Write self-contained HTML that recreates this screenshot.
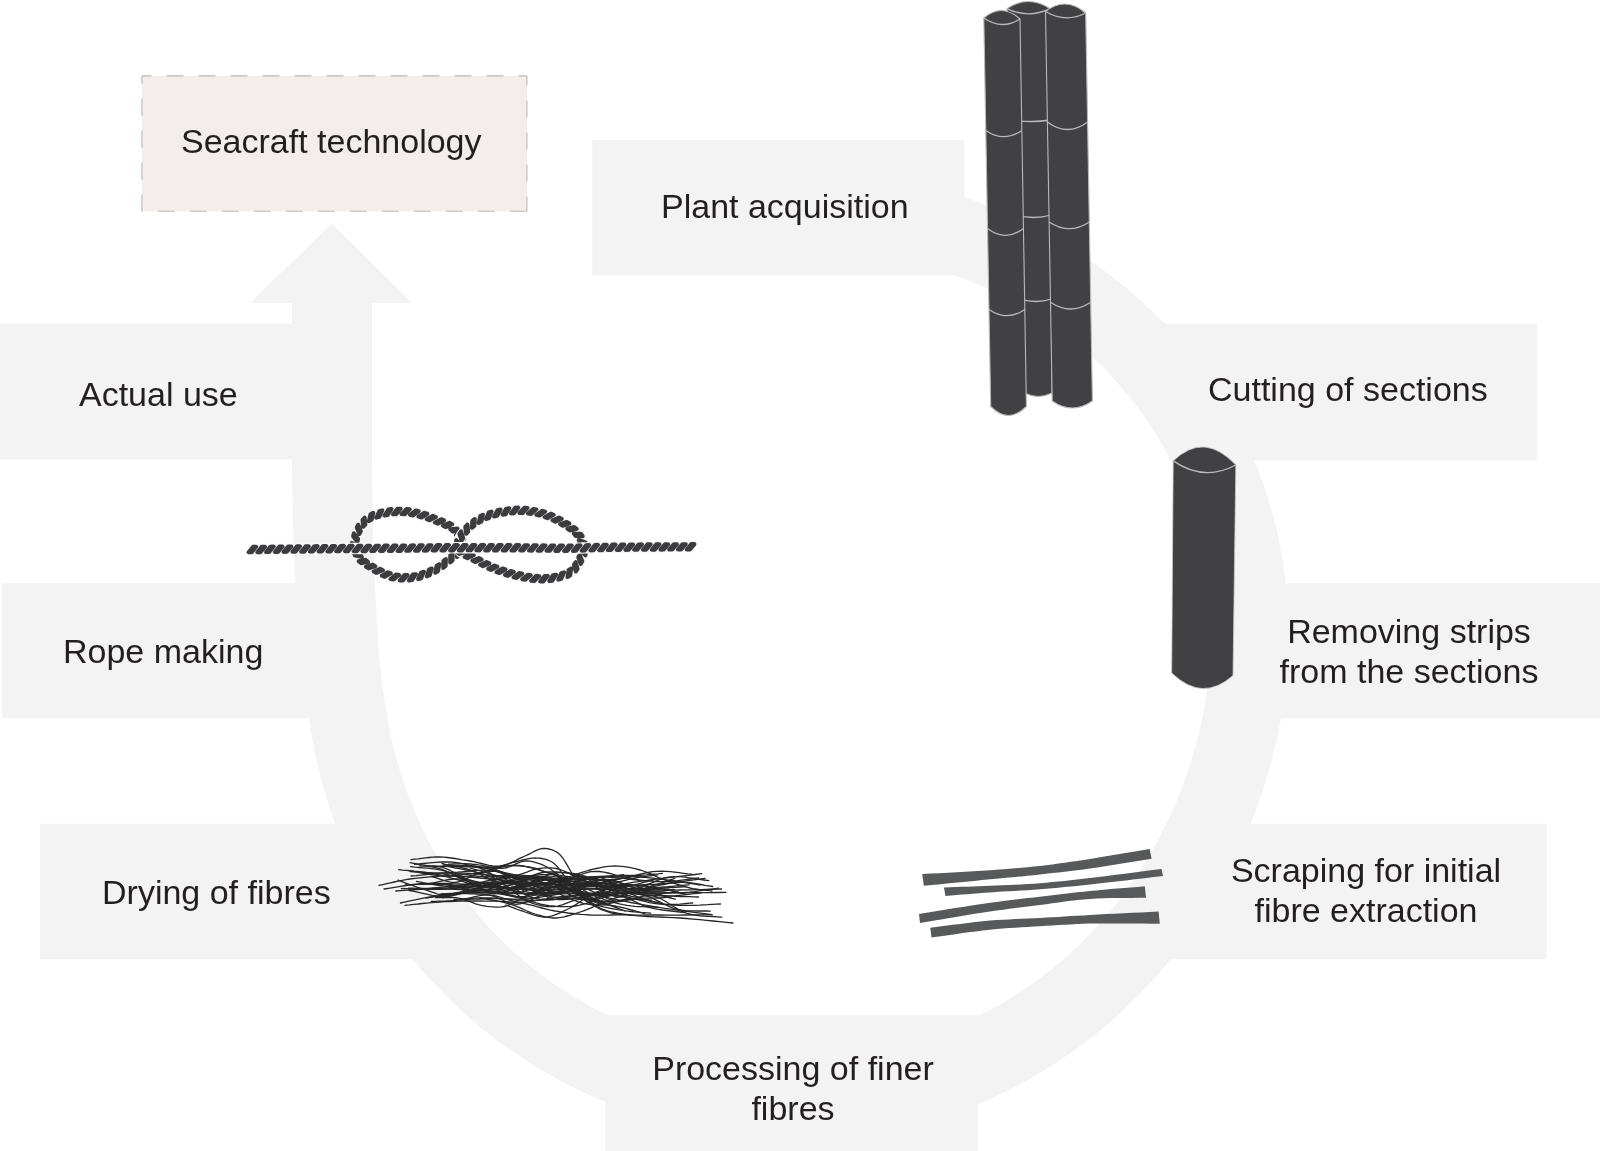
<!DOCTYPE html>
<html><head><meta charset="utf-8"><style>
html,body{margin:0;padding:0;background:#fff;width:1600px;height:1151px;overflow:hidden;position:relative}
.t{position:absolute;will-change:transform;font-family:"Liberation Sans",sans-serif;font-size:34px;line-height:34px;color:#231f20;white-space:nowrap}
.c{width:600px;text-align:center}
</style></head><body>
<svg width="1600" height="1151" viewBox="0 0 1600 1151" style="position:absolute;left:0;top:0"><path d="M879.3,174.1 L884.6,175.1 L890.0,176.2 L895.3,177.4 L900.7,178.5 L906.0,179.8 L911.3,181.1 L916.6,182.4 L921.9,183.8 L927.2,185.2 L932.5,186.7 L937.7,188.3 L943.0,189.8 L948.2,191.5 L953.4,193.2 L958.6,194.9 L963.8,196.7 L968.9,198.6 L974.1,200.5 L979.2,202.4 L984.3,204.4 L989.4,206.5 L994.5,208.6 L999.5,210.7 L1004.6,212.9 L1009.6,215.2 L1014.6,217.5 L1019.6,219.8 L1024.5,222.2 L1029.4,224.7 L1034.3,227.2 L1039.2,229.8 L1044.1,232.4 L1048.9,235.0 L1053.7,237.8 L1058.5,240.5 L1063.3,243.3 L1068.0,246.2 L1072.7,249.1 L1077.3,252.1 L1082.0,255.2 L1086.6,258.2 L1091.2,261.4 L1095.7,264.6 L1100.2,267.8 L1104.7,271.1 L1109.2,274.4 L1113.6,277.8 L1117.9,281.3 L1122.3,284.8 L1126.6,288.3 L1130.8,291.9 L1135.0,295.6 L1139.2,299.3 L1143.3,303.0 L1147.4,306.8 L1151.5,310.7 L1155.5,314.6 L1159.5,318.5 L1163.4,322.5 L1167.2,326.6 L1171.1,330.7 L1174.8,334.8 L1178.6,339.0 L1182.2,343.3 L1185.8,347.6 L1189.4,351.9 L1192.9,356.3 L1196.4,360.7 L1199.8,365.2 L1203.1,369.7 L1206.4,374.3 L1209.7,378.9 L1212.9,383.5 L1216.0,388.2 L1219.0,392.9 L1222.1,397.7 L1225.0,402.5 L1227.9,407.4 L1230.7,412.3 L1233.5,417.2 L1236.1,422.1 L1238.8,427.1 L1241.3,432.2 L1243.8,437.2 L1246.3,442.3 L1248.7,447.4 L1251.0,452.6 L1253.2,457.8 L1255.4,463.0 L1257.5,468.2 L1259.5,473.5 L1261.5,478.8 L1263.4,484.1 L1265.2,489.5 L1267.0,494.8 L1268.7,500.2 L1270.3,505.6 L1271.8,511.1 L1273.3,516.5 L1274.7,522.0 L1276.1,527.5 L1277.3,533.0 L1278.5,538.5 L1279.7,544.0 L1280.7,549.6 L1281.7,555.1 L1282.7,560.7 L1283.5,566.3 L1284.3,571.9 L1285.0,577.4 L1285.7,583.0 L1286.2,588.7 L1286.8,594.3 L1287.2,599.9 L1287.6,605.5 L1287.9,611.1 L1288.1,616.8 L1288.3,622.4 L1288.4,628.0 L1288.4,633.6 L1288.4,639.2 L1288.3,644.9 L1288.1,650.5 L1287.9,656.1 L1287.6,661.7 L1287.2,667.3 L1286.8,672.9 L1286.3,678.5 L1285.8,684.1 L1285.2,689.6 L1284.5,695.2 L1283.7,700.8 L1282.9,706.3 L1282.1,711.8 L1281.1,717.3 L1280.2,722.9 L1279.1,728.3 L1278.0,733.8 L1276.8,739.3 L1275.6,744.7 L1274.3,750.2 L1273.0,755.6 L1271.6,761.0 L1270.1,766.4 L1268.6,771.7 L1267.0,777.1 L1265.4,782.4 L1263.7,787.7 L1262.0,793.0 L1260.2,798.3 L1258.4,803.6 L1256.5,808.8 L1254.5,814.0 L1252.5,819.2 L1250.4,824.3 L1248.3,829.5 L1246.1,834.6 L1243.9,839.7 L1241.6,844.8 L1239.3,849.8 L1236.9,854.8 L1234.5,859.8 L1232.0,864.8 L1229.5,869.7 L1226.9,874.6 L1224.2,879.5 L1221.6,884.4 L1218.8,889.2 L1216.0,894.0 L1213.2,898.8 L1210.3,903.5 L1207.4,908.3 L1204.4,912.9 L1201.4,917.6 L1198.3,922.2 L1195.1,926.8 L1192.0,931.3 L1188.7,935.9 L1185.5,940.3 L1182.1,944.8 L1178.8,949.2 L1175.4,953.6 L1171.9,957.9 L1168.4,962.2 L1164.8,966.5 L1161.2,970.7 L1157.6,974.9 L1153.9,979.1 L1150.1,983.2 L1146.4,987.2 L1142.5,991.3 L1138.7,995.3 L1134.7,999.2 L1130.8,1003.1 L1126.8,1007.0 L1122.7,1010.8 L1118.6,1014.6 L1114.5,1018.3 L1110.3,1022.0 L1106.1,1025.6 L1101.8,1029.2 L1097.5,1032.7 L1093.2,1036.2 L1088.8,1039.7 L1084.4,1043.0 L1079.9,1046.4 L1075.4,1049.7 L1070.9,1052.9 L1066.3,1056.1 L1061.7,1059.2 L1057.1,1062.3 L1052.4,1065.3 L1047.7,1068.3 L1042.9,1071.2 L1038.1,1074.1 L1033.3,1076.9 L1028.4,1079.7 L1023.5,1082.3 L1018.6,1085.0 L1013.7,1087.6 L1008.7,1090.1 L1003.7,1092.5 L998.6,1095.0 L993.5,1097.3 L988.4,1099.6 L983.3,1101.8 L978.2,1104.0 L973.0,1106.1 L967.8,1108.1 L962.6,1110.1 L957.3,1112.0 L952.0,1113.9 L946.7,1115.7 L941.4,1117.4 L936.1,1119.1 L930.7,1120.7 L925.4,1122.2 L920.0,1123.7 L914.6,1125.1 L909.1,1126.4 L903.7,1127.7 L898.2,1128.9 L892.8,1130.1 L887.3,1131.2 L881.8,1132.2 L876.3,1133.2 L870.7,1134.1 L865.2,1134.9 L859.7,1135.7 L854.1,1136.4 L848.6,1137.0 L843.0,1137.6 L837.4,1138.1 L831.9,1138.6 L826.3,1138.9 L820.7,1139.3 L815.1,1139.5 L809.5,1139.7 L803.9,1139.8 L798.4,1139.9 L792.8,1139.9 L787.2,1139.8 L781.6,1139.7 L776.0,1139.5 L770.4,1139.2 L764.8,1138.9 L759.3,1138.5 L753.7,1138.1 L748.1,1137.5 L742.6,1137.0 L737.0,1136.3 L731.5,1135.6 L725.9,1134.9 L720.4,1134.0 L714.9,1133.2 L709.4,1132.2 L703.9,1131.2 L698.4,1130.1 L693.0,1129.0 L687.5,1127.8 L682.1,1126.5 L676.6,1125.2 L671.2,1123.9 L665.8,1122.4 L660.4,1120.9 L655.1,1119.4 L649.7,1117.8 L644.4,1116.1 L639.1,1114.4 L633.8,1112.6 L628.5,1110.7 L623.3,1108.8 L618.0,1106.9 L612.8,1104.8 L607.7,1102.8 L602.5,1100.6 L597.4,1098.4 L592.2,1096.2 L587.2,1093.9 L582.1,1091.5 L577.1,1089.1 L572.1,1086.6 L567.1,1084.1 L562.1,1081.5 L557.2,1078.8 L552.3,1076.1 L547.5,1073.4 L542.6,1070.6 L537.8,1067.7 L533.1,1064.8 L528.3,1061.8 L523.6,1058.8 L519.0,1055.7 L514.3,1052.6 L509.7,1049.4 L505.2,1046.2 L500.7,1042.9 L496.2,1039.5 L491.7,1036.2 L487.3,1032.7 L482.9,1029.2 L478.6,1025.7 L474.3,1022.1 L470.1,1018.5 L465.9,1014.8 L461.7,1011.0 L457.6,1007.2 L453.5,1003.4 L449.5,999.5 L445.5,995.6 L441.6,991.6 L437.7,987.6 L433.8,983.5 L430.1,979.4 L426.3,975.3 L422.6,971.1 L419.0,966.9 L415.4,962.6 L411.8,958.2 L408.3,953.9 L404.9,949.5 L401.5,945.0 L398.1,940.5 L394.8,936.0 L391.6,931.5 L388.4,926.9 L385.3,922.2 L382.2,917.5 L379.2,912.8 L376.2,908.1 L373.3,903.3 L370.5,898.5 L367.7,893.6 L365.0,888.8 L362.3,883.9 L359.7,878.9 L357.1,873.9 L354.6,868.9 L352.2,863.9 L349.8,858.9 L347.5,853.8 L345.2,848.7 L343.0,843.5 L340.9,838.4 L338.8,833.2 L336.8,828.0 L334.8,822.8 L332.9,817.5 L331.1,812.2 L329.3,806.9 L327.6,801.6 L326.0,796.3 L324.4,790.9 L322.8,785.6 L321.4,780.2 L320.0,774.8 L318.6,769.4 L317.3,764.0 L316.4,760.0 L315.9,757.7 L315.5,755.4 L315.0,753.1 L314.5,750.8 L314.0,748.5 L313.6,746.2 L313.2,743.9 L312.7,741.6 L312.3,739.3 L311.9,737.0 L311.5,734.7 L311.1,732.4 L310.7,730.1 L310.3,727.8 L310.0,725.6 L309.6,723.3 L309.2,721.0 L308.9,718.7 L308.5,716.4 L308.2,714.1 L307.9,711.8 L307.5,709.5 L307.2,707.2 L306.9,704.9 L306.6,702.6 L306.3,700.3 L306.0,698.0 L305.7,695.7 L305.4,693.4 L305.1,691.1 L304.9,688.8 L304.6,686.5 L304.3,684.2 L304.0,681.9 L303.7,679.6 L303.5,677.3 L303.2,675.0 L302.9,672.7 L302.6,670.4 L302.4,668.1 L302.1,665.8 L301.8,663.5 L301.5,661.3 L301.3,659.0 L301.0,656.7 L300.7,654.4 L300.5,652.1 L300.2,649.8 L300.0,647.5 L299.8,645.2 L299.5,642.9 L299.3,640.6 L299.2,638.3 L299.0,636.0 L298.8,633.7 L298.6,631.4 L298.4,629.1 L298.3,626.8 L298.1,624.5 L297.9,622.2 L297.8,619.9 L297.6,617.6 L297.4,615.3 L297.3,613.0 L297.1,610.7 L297.0,608.4 L296.8,606.1 L296.7,603.8 L296.5,601.5 L296.4,599.2 L296.2,596.9 L296.1,594.7 L295.9,592.4 L295.8,590.1 L295.7,587.8 L295.5,585.5 L295.4,583.2 L295.3,580.9 L295.2,578.6 L295.0,576.3 L294.9,574.0 L294.8,571.7 L294.7,569.4 L294.6,567.1 L294.5,564.8 L294.4,562.5 L294.3,560.2 L294.2,557.9 L294.1,555.6 L294.0,553.3 L293.9,551.0 L293.8,548.7 L293.7,546.4 L293.6,544.1 L293.5,541.8 L293.4,539.5 L293.3,537.2 L293.3,534.9 L293.2,532.6 L293.1,530.4 L293.0,528.1 L293.0,525.8 L292.9,523.5 L292.8,521.2 L292.8,518.9 L292.7,516.6 L292.7,514.3 L292.6,512.0 L292.6,509.7 L292.5,507.4 L292.5,505.1 L292.4,502.8 L292.4,500.5 L292.3,498.2 L292.3,495.9 L292.3,493.6 L292.2,491.3 L292.2,489.0 L292.2,486.7 L292.1,484.4 L292.1,482.1 L292.1,479.8 L292.1,477.5 L292.1,475.2 L292.0,472.9 L292.0,470.6 L292.0,468.3 L292.0,466.1 L292.0,463.8 L292.0,461.5 L292.0,459.2 L292.0,456.9 L292.0,454.6 L292.0,452.3 L292.0,450.0 L292.0,447.7 L292.0,445.4 L292.0,443.1 L292.0,440.8 L292.0,438.5 L292.0,436.2 L292.0,433.9 L292.0,431.6 L292.0,429.3 L292.0,427.0 L292.0,424.7 L292.0,422.4 L292.0,420.1 L292.0,417.8 L292.0,415.5 L292.0,413.2 L292.0,410.9 L292.0,408.6 L292.0,406.3 L292.0,404.0 L292.0,401.7 L292.0,399.5 L292.0,397.2 L292.0,394.9 L292.0,392.6 L292.0,390.3 L292.0,388.0 L292.0,385.7 L292.0,383.4 L292.0,381.1 L292.0,378.8 L292.0,376.5 L292.0,374.2 L292.0,371.9 L292.0,369.6 L292.0,367.3 L292.0,365.0 L292.0,362.7 L292.0,360.4 L292.0,358.1 L292.0,355.8 L292.0,353.5 L292.0,351.2 L292.0,348.9 L292.0,346.6 L292.0,344.3 L292.0,342.0 L292.0,339.7 L292.0,337.4 L292.0,335.2 L292.0,332.9 L292.0,330.6 L292.0,328.3 L292.0,326.0 L292.0,323.7 L292.0,321.4 L292.0,319.1 L292.0,316.8 L292.0,314.5 L292.0,312.2 L292.0,309.9 L292.0,307.6 L292.0,305.3 L292.0,303.0 L292.0,303.0 L250.0,303.0 L331.5,223.5 L412.0,303.0 L372.0,303.0 L372.0,303.0 L372.0,305.3 L372.0,307.6 L372.0,309.9 L372.0,312.2 L372.0,314.5 L372.0,316.8 L372.0,319.1 L372.0,321.4 L372.0,323.7 L372.0,326.0 L372.0,328.3 L372.0,330.6 L372.0,332.9 L372.0,335.2 L372.0,337.4 L372.0,339.7 L372.0,342.0 L372.0,344.3 L372.0,346.6 L372.0,348.9 L372.0,351.2 L372.0,353.5 L372.0,355.8 L372.0,358.1 L372.0,360.4 L372.0,362.7 L372.0,365.0 L372.0,367.3 L372.0,369.6 L372.0,371.9 L372.0,374.2 L372.0,376.5 L372.0,378.8 L372.0,381.1 L372.0,383.4 L372.0,385.7 L372.0,388.0 L372.0,390.3 L372.0,392.6 L372.0,394.9 L372.0,397.2 L372.0,399.5 L372.0,401.7 L372.0,404.0 L372.0,406.3 L372.0,408.6 L372.0,410.9 L372.0,413.2 L372.0,415.5 L372.0,417.8 L372.0,420.1 L372.0,422.4 L372.0,424.7 L372.0,427.0 L372.0,429.3 L372.0,431.6 L372.0,433.9 L372.0,436.2 L372.0,438.5 L372.0,440.8 L372.0,443.1 L372.0,445.4 L372.0,447.7 L372.0,450.0 L372.0,452.3 L372.0,454.6 L372.0,456.9 L372.0,459.2 L372.0,461.5 L372.0,463.8 L372.0,466.1 L372.1,468.3 L372.1,470.6 L372.1,472.9 L372.1,475.2 L372.1,477.5 L372.1,479.8 L372.2,482.1 L372.2,484.4 L372.2,486.7 L372.2,489.0 L372.3,491.3 L372.3,493.6 L372.3,495.9 L372.4,498.2 L372.4,500.5 L372.5,502.8 L372.5,505.1 L372.5,507.4 L372.6,509.7 L372.6,512.0 L372.7,514.3 L372.7,516.6 L372.8,518.9 L372.8,521.2 L372.9,523.5 L372.9,525.8 L373.0,528.1 L373.1,530.4 L373.1,532.6 L373.2,534.9 L373.2,537.2 L373.3,539.5 L373.4,541.8 L373.5,544.1 L373.5,546.4 L373.6,548.7 L373.7,551.0 L373.8,553.3 L373.8,555.6 L373.9,557.9 L374.0,560.2 L374.1,562.5 L374.2,564.8 L374.2,567.1 L374.3,569.4 L374.4,571.7 L374.5,574.0 L374.6,576.3 L374.7,578.6 L374.8,580.9 L374.9,583.2 L375.0,585.5 L375.1,587.8 L375.2,590.1 L375.3,592.4 L375.4,594.7 L375.5,596.9 L375.7,599.2 L375.8,601.5 L375.9,603.8 L376.0,606.1 L376.1,608.4 L376.2,610.7 L376.4,613.0 L376.5,615.3 L376.6,617.6 L376.7,619.9 L376.9,622.2 L377.0,624.5 L377.1,626.8 L377.3,629.1 L377.4,631.4 L377.5,633.7 L377.7,636.0 L377.8,638.3 L378.0,640.6 L378.1,642.9 L378.3,645.2 L378.5,647.5 L378.7,649.8 L378.9,652.1 L379.1,654.4 L379.3,656.7 L379.5,659.0 L379.7,661.3 L380.0,663.5 L380.2,665.8 L380.4,668.1 L380.7,670.4 L380.9,672.7 L381.2,675.0 L381.4,677.3 L381.7,679.6 L382.0,681.9 L382.3,684.2 L382.5,686.5 L382.8,688.8 L383.2,691.1 L383.5,693.4 L383.8,695.7 L384.2,698.0 L384.5,700.3 L384.9,702.6 L385.3,704.9 L385.7,707.2 L386.1,709.5 L386.5,711.8 L386.9,714.1 L387.3,716.4 L387.7,718.7 L388.1,721.0 L388.5,723.3 L388.9,725.6 L389.4,727.8 L389.8,730.1 L390.3,732.4 L390.8,734.7 L391.3,737.0 L391.8,739.3 L392.3,741.6 L392.8,743.9 L393.3,746.2 L393.9,748.5 L394.5,750.8 L395.1,753.1 L395.7,755.4 L396.3,757.7 L396.9,760.0 L397.9,763.7 L399.2,768.2 L400.6,772.7 L402.0,777.1 L403.4,781.6 L405.0,786.0 L406.5,790.5 L408.1,794.9 L409.8,799.2 L411.5,803.6 L413.2,808.0 L415.1,812.3 L416.9,816.6 L418.8,820.9 L420.8,825.2 L422.8,829.4 L424.8,833.6 L426.9,837.8 L429.1,842.0 L431.3,846.2 L433.5,850.3 L435.8,854.4 L438.2,858.5 L440.6,862.5 L443.0,866.5 L445.5,870.5 L448.0,874.5 L450.6,878.4 L453.2,882.3 L455.9,886.2 L458.6,890.0 L461.4,893.8 L464.2,897.6 L467.0,901.3 L469.9,905.0 L472.9,908.7 L475.9,912.3 L478.9,915.9 L482.0,919.4 L485.1,923.0 L488.2,926.4 L491.4,929.9 L494.7,933.3 L498.0,936.7 L501.3,940.0 L504.6,943.3 L508.0,946.5 L511.5,949.7 L514.9,952.9 L518.4,956.0 L522.0,959.1 L525.6,962.1 L529.2,965.1 L532.8,968.1 L536.5,971.0 L540.2,973.9 L544.0,976.7 L547.8,979.5 L551.6,982.2 L555.4,984.9 L559.3,987.5 L563.2,990.1 L567.2,992.7 L571.1,995.2 L575.1,997.6 L579.1,1000.0 L583.2,1002.4 L587.3,1004.7 L591.4,1007.0 L595.5,1009.2 L599.6,1011.4 L603.8,1013.5 L608.0,1015.6 L612.2,1017.6 L616.5,1019.6 L620.7,1021.5 L625.0,1023.4 L629.3,1025.3 L633.6,1027.0 L638.0,1028.8 L642.3,1030.5 L646.7,1032.1 L651.1,1033.7 L655.5,1035.3 L659.9,1036.8 L664.4,1038.2 L668.8,1039.6 L673.3,1041.0 L677.8,1042.3 L682.3,1043.5 L686.8,1044.7 L691.3,1045.9 L695.9,1047.0 L700.4,1048.0 L705.0,1049.0 L709.6,1050.0 L714.1,1050.9 L718.7,1051.7 L723.3,1052.5 L727.9,1053.3 L732.5,1054.0 L737.2,1054.6 L741.8,1055.2 L746.4,1055.8 L751.1,1056.3 L755.7,1056.7 L760.3,1057.1 L765.0,1057.5 L769.7,1057.8 L774.3,1058.1 L779.0,1058.3 L783.6,1058.4 L788.3,1058.5 L793.0,1058.5 L797.6,1058.5 L802.3,1058.5 L807.0,1058.4 L811.6,1058.2 L816.3,1058.0 L820.9,1057.8 L825.6,1057.5 L830.3,1057.1 L834.9,1056.7 L839.6,1056.2 L844.2,1055.7 L848.8,1055.1 L853.5,1054.5 L858.1,1053.8 L862.7,1053.1 L867.3,1052.3 L871.9,1051.5 L876.5,1050.6 L881.1,1049.7 L885.6,1048.7 L890.2,1047.7 L894.7,1046.6 L899.2,1045.5 L903.8,1044.3 L908.3,1043.0 L912.8,1041.7 L917.2,1040.4 L921.7,1039.0 L926.1,1037.5 L930.6,1036.0 L935.0,1034.5 L939.4,1032.9 L943.8,1031.2 L948.1,1029.5 L952.4,1027.8 L956.8,1026.0 L961.1,1024.1 L965.3,1022.2 L969.6,1020.3 L973.8,1018.3 L978.0,1016.2 L982.2,1014.1 L986.3,1012.0 L990.5,1009.8 L994.6,1007.5 L998.6,1005.2 L1002.7,1002.9 L1006.7,1000.5 L1010.7,998.0 L1014.7,995.6 L1018.6,993.0 L1022.5,990.5 L1026.4,987.8 L1030.2,985.2 L1034.1,982.5 L1037.8,979.7 L1041.6,976.9 L1045.3,974.1 L1049.0,971.2 L1052.6,968.3 L1056.2,965.3 L1059.8,962.3 L1063.4,959.2 L1066.9,956.1 L1070.4,953.0 L1073.8,949.8 L1077.2,946.6 L1080.6,943.4 L1083.9,940.1 L1087.2,936.8 L1090.4,933.4 L1093.6,930.0 L1096.8,926.6 L1099.9,923.1 L1103.0,919.6 L1106.1,916.1 L1109.1,912.5 L1112.1,908.9 L1115.0,905.2 L1117.9,901.6 L1120.8,897.9 L1123.6,894.1 L1126.4,890.4 L1129.1,886.6 L1131.8,882.8 L1134.4,878.9 L1137.1,875.0 L1139.6,871.1 L1142.1,867.2 L1144.6,863.2 L1147.1,859.2 L1149.5,855.2 L1151.8,851.2 L1154.1,847.1 L1156.4,843.0 L1158.6,838.9 L1160.8,834.8 L1162.9,830.6 L1165.0,826.4 L1167.1,822.2 L1169.1,818.0 L1171.1,813.7 L1173.0,809.5 L1174.9,805.2 L1176.7,800.9 L1178.5,796.5 L1180.2,792.2 L1181.9,787.8 L1183.6,783.4 L1185.2,779.0 L1186.7,774.6 L1188.2,770.2 L1189.7,765.7 L1191.1,761.2 L1192.5,756.7 L1193.8,752.2 L1195.1,747.7 L1196.3,743.2 L1197.5,738.6 L1198.7,734.1 L1199.7,729.5 L1200.8,724.9 L1201.8,720.3 L1202.7,715.7 L1203.6,711.1 L1204.5,706.4 L1205.3,701.8 L1206.0,697.1 L1206.7,692.5 L1207.3,687.8 L1207.9,683.1 L1208.5,678.4 L1209.0,673.7 L1209.4,669.0 L1209.8,664.3 L1210.1,659.6 L1210.4,654.8 L1210.6,650.1 L1210.8,645.4 L1210.9,640.6 L1211.0,635.9 L1211.0,631.1 L1211.0,626.4 L1210.9,621.6 L1210.7,616.9 L1210.5,612.1 L1210.2,607.4 L1209.9,602.6 L1209.5,597.9 L1209.1,593.2 L1208.6,588.4 L1208.0,583.7 L1207.4,579.0 L1206.8,574.3 L1206.0,569.5 L1205.2,564.8 L1204.4,560.1 L1203.5,555.5 L1202.5,550.8 L1201.5,546.1 L1200.4,541.5 L1199.3,536.8 L1198.1,532.2 L1196.8,527.6 L1195.5,523.0 L1194.1,518.4 L1192.7,513.9 L1191.2,509.3 L1189.7,504.8 L1188.0,500.3 L1186.4,495.8 L1184.6,491.4 L1182.8,486.9 L1181.0,482.5 L1179.1,478.1 L1177.1,473.8 L1175.1,469.4 L1173.0,465.1 L1170.9,460.8 L1168.7,456.6 L1166.5,452.4 L1164.2,448.2 L1161.8,444.0 L1159.4,439.9 L1156.9,435.8 L1154.4,431.7 L1151.8,427.7 L1149.2,423.7 L1146.5,419.8 L1143.8,415.9 L1141.0,412.0 L1138.2,408.2 L1135.3,404.4 L1132.3,400.6 L1129.4,396.9 L1126.3,393.2 L1123.3,389.6 L1120.1,386.0 L1117.0,382.4 L1113.8,378.9 L1110.5,375.4 L1107.2,372.0 L1103.9,368.6 L1100.5,365.3 L1097.1,362.0 L1093.6,358.8 L1090.1,355.6 L1086.6,352.4 L1083.0,349.3 L1079.4,346.3 L1075.8,343.3 L1072.1,340.3 L1068.4,337.4 L1064.6,334.5 L1060.9,331.7 L1057.0,328.9 L1053.2,326.2 L1049.3,323.5 L1045.4,320.9 L1041.5,318.3 L1037.6,315.7 L1033.6,313.2 L1029.6,310.8 L1025.6,308.4 L1021.5,306.1 L1017.5,303.8 L1013.4,301.5 L1009.3,299.3 L1005.1,297.1 L1001.0,295.0 L996.8,292.9 L992.6,290.9 L988.4,288.9 L984.2,287.0 L979.9,285.1 L975.7,283.3 L971.4,281.5 L967.1,279.7 L962.8,278.0 L958.5,276.4 L954.1,274.7 L949.8,273.2 L945.4,271.6 L941.1,270.1 L936.7,268.7 L932.3,267.3 L927.9,265.9 L923.5,264.6 L919.1,263.3 L914.6,262.1 L910.2,260.9 L905.8,259.8 L901.3,258.7 L896.8,257.6 L892.4,256.6 L887.9,255.6 L883.4,254.6 L878.9,253.7 L874.4,252.9 L869.9,252.0 L865.4,251.3Z" fill="#f3f3f3"/>
<rect x="592.2" y="139.8" width="372.0999999999999" height="135.59999999999997" fill="#f3f3f3"/>
<rect x="605.5" y="1015" width="372.79999999999995" height="136" fill="#f3f3f3"/>
<path d="M1106.4,323.4 L1537.0,323.4 L1537.0,460.3 L1212.0,460.3Z" fill="#f3f3f3"/>
<path d="M1246.8,583.3 L1600.0,583.3 L1600.0,718.3 L1241.5,718.3Z" fill="#f3f3f3"/>
<path d="M1208.8,823.8 L1546.5,823.8 L1546.5,959.2 L1117.6,959.2Z" fill="#f3f3f3"/>
<path d="M0.0,323.8 L332.0,323.8 L332.0,459.6 L0.0,459.6Z" fill="#f3f3f3"/>
<path d="M2.0,583.3 L335.2,583.3 L348.3,718.3 L2.0,718.3Z" fill="#f3f3f3"/>
<path d="M40.0,823.8 L377.8,823.8 L466.9,959.2 L40.0,959.2Z" fill="#f3f3f3"/>
<rect x="141.9" y="75.9" width="385.0" height="135.35" fill="#f3eeeb"/>
<line x1="141.9" y1="75.9" x2="526.9" y2="75.9" stroke="#c2b5b2" stroke-width="1.1" stroke-dasharray="17 15" stroke-dashoffset="7.300000000000011"/>
<line x1="141.9" y1="211.25" x2="526.9" y2="211.25" stroke="#c2b5b2" stroke-width="1.1" stroke-dasharray="17 15" stroke-dashoffset="16.0"/>
<line x1="141.9" y1="75.9" x2="141.9" y2="211.25" stroke="#c2b5b2" stroke-width="1.1" stroke-dasharray="17 15" stroke-dashoffset="9.300000000000011"/>
<line x1="526.9" y1="75.9" x2="526.9" y2="211.25" stroke="#c2b5b2" stroke-width="1.1" stroke-dasharray="17 15" stroke-dashoffset="7.400000000000006"/>
<path d="M1007,8.6 Q1028.5,-5.6 1050,8.6 L1052,393 Q1038.25,400.0 1024.5,393 Z" fill="#414042" stroke="#b9b9ba" stroke-width="1.1"/>
<path d="M1007,8.6 Q1028.5,19.0 1050,8.6" fill="none" stroke="#b9b9ba" stroke-width="1.3"/>
<path d="M1012.1,120 Q1031.3,123.0 1050.6,120" fill="none" stroke="#b9b9ba" stroke-width="1.3"/>
<path d="M1016.4,215 Q1033.7,220.0 1051.1,215" fill="none" stroke="#b9b9ba" stroke-width="1.3"/>
<path d="M1020.2,299 Q1035.9,304.0 1051.5,299" fill="none" stroke="#b9b9ba" stroke-width="1.3"/>
<path d="M983.8,18 Q1001.9,2.5 1020,19 L1026.4,406.5 Q1008.5500000000001,424.5 990.7,406.5 Z" fill="#414042" stroke="#b9b9ba" stroke-width="1.1"/>
<path d="M983.8,18 Q1001.9,30.5 1020,19" fill="none" stroke="#b9b9ba" stroke-width="1.3"/>
<path d="M985.8,130.5 Q1003.8,142.89999999999998 1021.8,130.5" fill="none" stroke="#b9b9ba" stroke-width="1.3"/>
<path d="M987.5,228.5 Q1005.5,242.3 1023.5,228.5" fill="none" stroke="#b9b9ba" stroke-width="1.3"/>
<path d="M989.0,309.5 Q1006.9,321.9 1024.8,309.5" fill="none" stroke="#b9b9ba" stroke-width="1.3"/>
<path d="M1045.5,11.5 Q1065.6,-4.25 1085.7,13 L1092.4,401 Q1072.3000000000002,415.0 1052.2,401 Z" fill="#414042" stroke="#b9b9ba" stroke-width="1.1"/>
<path d="M1045.5,11.5 Q1065.6,23.35 1085.7,13" fill="none" stroke="#b9b9ba" stroke-width="1.3"/>
<path d="M1047.4,122 Q1067.5,137.0 1087.6,122" fill="none" stroke="#b9b9ba" stroke-width="1.3"/>
<path d="M1049.1,222 Q1069.2,235.39999999999998 1089.3,222" fill="none" stroke="#b9b9ba" stroke-width="1.3"/>
<path d="M1050.5,302.3 Q1070.6,315.7 1090.7,302.3" fill="none" stroke="#b9b9ba" stroke-width="1.3"/>
<path d="M1173.2,460.9 Q1204,431.05 1235.8,465 L1233,675.6 Q1202.5,702.7 1171.7,673 Z" fill="#414042" stroke="#c8c8c8" stroke-width="0.8"/>
<path d="M1173.2,460.9 Q1204,482.05 1235.8,465" fill="none" stroke="#b9b9ba" stroke-width="1.4"/>
<path d="M922.2,874.1 L930.7,873.6 L939.4,873.2 L948.1,872.7 L956.7,872.2 L965.3,871.7 L973.8,871.3 L982.0,870.7 L990.0,870.2 L996.6,869.7 L1003.0,869.2 L1009.3,868.8 L1015.5,868.3 L1021.6,867.7 L1027.7,867.2 L1033.8,866.6 L1040.0,865.9 L1046.2,865.2 L1052.4,864.4 L1058.6,863.6 L1064.7,862.7 L1070.9,861.8 L1077.2,860.9 L1083.5,859.9 L1090.0,858.9 L1097.2,857.8 L1104.6,856.6 L1112.0,855.3 L1119.5,854.1 L1127.1,852.8 L1134.7,851.5 L1142.2,850.2 L1149.7,848.9 L1151.6,858.7 L1143.9,859.9 L1136.1,861.2 L1128.2,862.5 L1120.4,863.8 L1112.6,865.1 L1105.0,866.3 L1097.4,867.4 L1090.0,868.5 L1083.5,869.4 L1077.1,870.2 L1070.9,871.0 L1064.7,871.7 L1058.5,872.5 L1052.4,873.1 L1046.2,873.8 L1040.0,874.5 L1033.8,875.2 L1027.7,875.8 L1021.6,876.4 L1015.4,876.9 L1009.3,877.5 L1003.0,878.1 L996.6,878.7 L990.0,879.3 L982.2,880.1 L974.1,880.9 L965.9,881.7 L957.5,882.5 L949.0,883.3 L940.6,884.2 L932.1,885.0 L923.8,885.8Z" fill="#58595b"/>
<path d="M944.0,887.4 L949.7,887.2 L955.5,887.0 L961.2,886.8 L966.9,886.7 L972.6,886.5 L978.4,886.3 L984.2,886.0 L990.0,885.8 L996.2,885.5 L1002.4,885.3 L1008.6,885.0 L1014.9,884.7 L1021.2,884.4 L1027.5,884.1 L1033.7,883.7 L1040.0,883.2 L1046.2,882.7 L1052.3,882.1 L1058.4,881.5 L1064.5,880.9 L1070.6,880.2 L1076.9,879.5 L1083.3,878.8 L1090.0,878.0 L1098.3,877.0 L1107.0,876.0 L1115.9,874.8 L1125.0,873.7 L1134.1,872.5 L1143.3,871.3 L1152.5,870.1 L1161.5,869.0 L1163.0,876.0 L1153.8,877.1 L1144.4,878.2 L1135.0,879.3 L1125.6,880.4 L1116.4,881.5 L1107.3,882.6 L1098.5,883.6 L1090.0,884.5 L1083.3,885.2 L1076.8,885.9 L1070.6,886.5 L1064.4,887.1 L1058.3,887.7 L1052.3,888.3 L1046.2,888.8 L1040.0,889.3 L1033.7,889.8 L1027.4,890.2 L1021.1,890.6 L1014.8,890.9 L1008.5,891.3 L1002.3,891.6 L996.1,892.0 L990.0,892.4 L984.3,892.8 L978.7,893.3 L973.1,893.7 L967.5,894.2 L962.0,894.6 L956.5,895.1 L951.0,895.5 L945.4,896.0Z" fill="#58595b"/>
<path d="M919.0,914.0 L928.0,912.6 L937.0,911.1 L946.2,909.6 L955.3,908.1 L964.3,906.7 L973.1,905.3 L981.7,904.0 L990.0,902.8 L996.7,901.9 L1003.1,901.1 L1009.4,900.3 L1015.5,899.5 L1021.6,898.8 L1027.7,898.1 L1033.8,897.4 L1040.0,896.7 L1046.2,896.0 L1052.4,895.2 L1058.6,894.5 L1064.9,893.8 L1071.1,893.0 L1077.3,892.3 L1083.6,891.7 L1090.0,891.0 L1096.7,890.4 L1103.5,889.7 L1110.4,889.1 L1117.2,888.6 L1124.1,888.0 L1131.0,887.4 L1137.9,886.9 L1144.8,886.3 L1146.0,897.7 L1139.0,897.8 L1131.9,897.9 L1124.9,897.9 L1117.8,898.0 L1110.8,898.1 L1103.8,898.2 L1096.8,898.5 L1090.0,898.9 L1083.6,899.4 L1077.3,900.1 L1071.0,900.8 L1064.8,901.6 L1058.6,902.5 L1052.4,903.3 L1046.2,904.2 L1040.0,905.0 L1033.8,905.8 L1027.7,906.5 L1021.6,907.3 L1015.5,908.0 L1009.4,908.8 L1003.1,909.7 L996.6,910.5 L990.0,911.5 L981.8,912.7 L973.3,914.1 L964.6,915.5 L955.7,916.9 L946.8,918.4 L937.8,920.0 L928.8,921.4 L920.0,922.9Z" fill="#58595b"/>
<path d="M930.3,927.7 L937.8,926.8 L945.3,925.8 L952.9,924.8 L960.5,923.9 L968.0,922.9 L975.4,922.1 L982.8,921.3 L990.0,920.6 L996.5,920.1 L1002.8,919.7 L1009.1,919.4 L1015.3,919.1 L1021.4,918.8 L1027.6,918.6 L1033.8,918.3 L1040.0,918.0 L1046.2,917.6 L1052.3,917.3 L1058.4,916.9 L1064.5,916.5 L1070.7,916.1 L1076.9,915.8 L1083.4,915.4 L1090.0,915.0 L1098.1,914.6 L1106.4,914.1 L1114.9,913.7 L1123.6,913.2 L1132.4,912.8 L1141.2,912.4 L1150.0,911.9 L1158.6,911.5 L1159.8,923.7 L1151.0,923.7 L1142.1,923.6 L1133.1,923.5 L1124.2,923.4 L1115.3,923.4 L1106.6,923.4 L1098.2,923.4 L1090.0,923.6 L1083.3,923.8 L1076.9,924.1 L1070.6,924.4 L1064.5,924.7 L1058.4,925.1 L1052.3,925.4 L1046.2,925.8 L1040.0,926.2 L1033.8,926.6 L1027.6,926.9 L1021.4,927.3 L1015.2,927.7 L1009.0,928.1 L1002.8,928.6 L996.4,929.1 L990.0,929.7 L982.9,930.5 L975.7,931.4 L968.4,932.3 L961.0,933.3 L953.6,934.4 L946.2,935.5 L938.8,936.5 L931.5,937.5Z" fill="#58595b"/>
<g fill="none" stroke="#262626" stroke-width="1.3" stroke-linecap="round"><path d="M411.0,859.6 L414.6,859.2 L418.2,858.8 L421.9,858.3 L425.5,857.9 L429.1,857.5 L432.7,857.2 L436.4,857.0 L440.0,857.0 L443.7,857.2 L447.5,857.5 L451.2,858.0 L455.0,858.5 L458.7,859.1 L462.5,859.8 L466.3,860.4 L470.0,861.0 L473.8,861.7 L477.6,862.6 L481.4,863.5 L485.2,864.4 L489.0,865.3 L492.8,865.9 L496.4,866.1 L500.0,866.0 L503.3,865.4 L506.6,864.5 L509.8,863.2 L513.0,861.8 L516.1,860.3 L519.1,858.7 L522.1,857.3 L525.0,856.0 L527.4,854.9 L529.7,853.8 L532.0,852.5 L534.3,851.4 L536.5,850.3 L538.7,849.4 L540.8,848.8 L543.0,848.5 L545.0,848.5 L546.9,848.7 L548.9,849.0 L550.8,849.5 L552.7,850.1 L554.6,851.0 L556.3,851.9 L558.0,853.0 L559.8,854.5 L561.4,856.3 L563.0,858.3 L564.4,860.5 L565.8,862.8 L567.2,865.2 L568.6,867.6 L570.0,870.0 L571.5,872.7 L572.9,875.6 L574.3,878.6 L575.6,881.7 L577.0,884.7 L578.5,887.7 L580.2,890.5 L582.0,893.0 L583.9,895.3 L585.9,897.4 L587.9,899.5 L590.1,901.4 L592.4,903.3 L594.8,905.0 L597.3,906.6 L600.0,908.0 L603.2,909.4 L606.6,910.6 L610.2,911.6 L613.9,912.4 L617.7,913.2 L621.7,913.8 L625.8,914.4 L630.0,915.0 L635.6,915.7 L641.5,916.2 L647.7,916.5 L654.1,916.8 L660.6,917.0 L667.1,917.3 L673.6,917.6 L680.0,918.0 L686.6,918.5 L693.1,919.1 L699.8,919.7 L706.4,920.4 L713.1,921.0 L719.7,921.7 L726.4,922.4 L733.0,923.0"/>
<path d="M414.5,864.3 L418.9,864.0 L423.3,863.5 L427.7,863.1 L432.1,862.7 L436.5,862.3 L441.0,862.0 L445.5,861.9 L450.0,862.0 L455.0,862.4 L460.1,863.2 L465.3,864.3 L470.5,865.4 L475.6,866.5 L480.6,867.4 L485.4,867.9 L490.0,868.0 L493.4,867.7 L496.7,867.1 L499.9,866.4 L503.1,865.5 L506.1,864.6 L509.1,863.6 L512.0,862.7 L515.0,862.0 L517.6,861.4 L520.2,860.7 L522.7,860.0 L525.2,859.4 L527.7,858.8 L530.2,858.4 L532.6,858.1 L535.0,858.0 L537.2,858.1 L539.4,858.2 L541.7,858.5 L543.8,858.9 L546.0,859.4 L548.1,860.1 L550.1,861.0 L552.0,862.0 L554.0,863.4 L555.8,865.1 L557.5,867.0 L559.2,869.1 L560.8,871.3 L562.5,873.5 L564.2,875.8 L566.0,878.0 L568.2,880.6 L570.4,883.5 L572.6,886.4 L574.9,889.3 L577.2,892.3 L579.7,895.1 L582.2,897.7 L585.0,900.0 L587.9,902.1 L591.0,904.1 L594.1,906.0 L597.4,907.7 L600.8,909.3 L604.4,910.7 L608.1,911.9 L612.0,913.0 L617.2,914.0 L622.9,914.7 L628.8,915.0 L634.9,915.2 L641.2,915.1 L647.5,915.0 L653.8,915.0 L660.0,915.0 L666.4,915.1 L672.9,915.1 L679.3,915.1 L685.9,915.0 L692.4,914.9 L699.0,914.8 L705.5,914.8 L712.0,914.7"/>
<path d="M428.6,866.6 L433.8,866.5 L439.0,866.4 L444.3,866.2 L449.5,866.1 L454.7,866.0 L459.9,865.9 L465.0,865.9 L470.0,866.0 L474.6,866.2 L479.2,866.6 L483.8,867.1 L488.3,867.6 L492.8,868.0 L497.1,868.3 L501.1,868.3 L505.0,868.0 L507.8,867.4 L510.4,866.5 L512.9,865.4 L515.4,864.2 L517.8,863.1 L520.1,862.1 L522.5,861.3 L525.0,861.0 L527.5,861.0 L530.0,861.2 L532.5,861.7 L535.1,862.3 L537.6,863.1 L540.1,863.9 L542.6,864.9 L545.0,866.0 L547.6,867.3 L550.1,868.8 L552.5,870.5 L555.0,872.4 L557.4,874.3 L559.9,876.2 L562.4,878.1 L565.0,880.0 L567.9,882.1 L570.9,884.2 L573.9,886.5 L576.9,888.7 L580.1,890.9 L583.3,893.0 L586.6,895.1 L590.0,897.0 L594.0,899.0 L598.2,900.9 L602.6,902.6 L607.0,904.3 L611.5,906.0 L616.1,907.6 L620.6,909.3 L625.0,911.0"/>
<path d="M506.0,905.0 L508.4,905.9 L510.7,906.8 L513.1,907.7 L515.4,908.6 L517.8,909.5 L520.2,910.4 L522.6,911.2 L525.0,912.0 L527.6,912.8 L530.1,913.7 L532.7,914.6 L535.4,915.4 L538.0,916.2 L540.6,916.7 L543.3,917.0 L546.0,917.0 L549.0,916.6 L552.0,915.9 L555.0,914.9 L558.0,913.7 L561.1,912.4 L564.1,910.9 L567.1,909.5 L570.0,908.0 L572.9,906.4 L575.8,904.6 L578.6,902.7 L581.4,900.8 L584.2,898.8 L587.1,896.9 L590.0,895.2 L593.0,893.6 L596.2,892.2 L599.5,890.9 L602.8,889.8 L606.2,888.7 L609.6,887.7 L613.0,886.7 L616.5,885.9 L620.0,885.0 L623.6,884.2 L627.2,883.5 L630.7,882.8 L634.4,882.2 L638.1,881.7 L641.9,881.1 L645.8,880.6 L650.0,880.0 L655.8,879.2 L661.9,878.4 L668.3,877.6 L674.9,876.8 L681.6,876.1 L688.4,875.3 L695.1,874.5 L701.6,873.7"/>
<path d="M480.0,898.0 L483.8,898.7 L487.6,899.4 L491.4,900.0 L495.2,900.7 L499.0,901.4 L502.7,902.2 L506.4,903.0 L510.0,904.0 L513.3,905.1 L516.5,906.3 L519.7,907.7 L522.8,909.1 L525.9,910.5 L529.0,911.8 L532.0,913.0 L535.0,914.0 L537.6,914.8 L540.1,915.5 L542.5,916.2 L545.0,916.8 L547.4,917.3 L549.9,917.7 L552.4,918.0 L555.0,918.0 L558.0,917.8 L561.0,917.4 L564.1,916.8 L567.2,916.0 L570.4,915.1 L573.6,914.1 L576.8,913.0 L580.0,912.0 L583.6,910.8 L587.3,909.3 L591.1,907.8 L594.8,906.2 L598.6,904.6 L602.4,903.0 L606.2,901.4 L610.0,900.0 L613.7,898.7 L617.4,897.4 L621.1,896.1 L624.8,894.9 L628.6,893.7 L632.3,892.5 L636.1,891.3 L640.0,890.0 L644.2,888.6 L648.5,887.2 L652.8,885.7 L657.2,884.3 L661.6,882.8 L666.0,881.3 L670.3,879.9 L674.7,878.4"/>
<path d="M400.5,903.0 L404.2,902.2 L407.8,901.4 L411.4,900.6 L415.0,899.9 L418.6,899.1 L422.3,898.3 L426.1,897.6 L430.0,897.0 L434.7,896.3 L439.6,895.6 L444.5,895.0 L449.6,894.4 L454.7,893.9 L459.8,893.5 L465.0,893.2 L470.0,893.0 L475.0,892.9 L480.1,892.9 L485.1,892.9 L490.2,893.1 L495.2,893.4 L500.2,893.7 L505.2,894.3 L510.0,895.0 L514.5,895.9 L519.0,897.2 L523.4,898.6 L527.8,900.1 L532.2,901.6 L536.5,903.0 L540.7,904.1 L545.0,905.0 L548.8,905.6 L552.6,906.0 L556.4,906.4 L560.1,906.6 L563.9,906.7 L567.6,906.6 L571.3,906.4 L575.0,906.0 L578.8,905.3 L582.5,904.4 L586.2,903.3 L589.9,902.0 L593.6,900.6 L597.3,899.3 L601.1,898.1 L605.0,897.0 L609.2,896.0 L613.4,895.0 L617.7,894.0 L622.0,893.1 L626.4,892.2 L630.8,891.4 L635.4,890.7 L640.0,890.0 L645.4,889.3 L651.0,888.8 L656.8,888.4 L662.6,888.0 L668.5,887.7 L674.3,887.3 L680.2,887.0 L686.0,886.6"/>
<path d="M405.0,905.3 L409.4,904.9 L413.7,904.4 L418.0,904.0 L422.3,903.5 L426.7,903.1 L431.1,902.7 L435.5,902.3 L440.0,902.0 L444.9,901.7 L449.8,901.5 L454.8,901.3 L459.8,901.1 L464.9,901.0 L469.9,901.0 L475.0,901.0 L480.0,901.0 L485.0,901.1 L490.1,901.1 L495.1,901.2 L500.2,901.4 L505.2,901.6 L510.2,902.0 L515.1,902.4 L520.0,903.0 L524.5,903.7 L528.9,904.7 L533.3,905.7 L537.7,906.9 L542.0,908.0 L546.3,909.1 L550.6,910.1 L555.0,911.0 L559.4,911.7 L563.7,912.4 L568.1,913.0 L572.5,913.5 L576.9,914.0 L581.2,914.4 L585.6,914.7 L590.0,915.0 L594.4,915.2 L598.7,915.2 L603.1,915.2 L607.5,915.1 L611.9,915.0 L616.2,914.9 L620.6,914.8 L625.0,914.7"/>
<path d="M379.0,885.4 L382.8,884.6 L386.7,883.7 L390.4,882.8 L394.2,882.0 L398.1,881.1 L402.0,880.4 L405.9,879.6 L410.0,879.0 L414.7,878.4 L419.6,877.8 L424.6,877.3 L429.7,876.8 L434.8,876.5 L439.9,876.2 L445.0,876.1 L450.0,876.0 L455.0,876.1 L460.0,876.3 L465.0,876.6 L470.0,877.0 L475.0,877.5 L480.0,878.0 L485.0,878.5 L490.0,879.0 L495.0,879.5 L500.0,880.2 L505.0,880.8 L510.0,881.5 L515.0,882.2 L520.0,882.8 L525.0,883.5 L530.0,884.0 L535.0,884.5 L540.0,885.0 L545.0,885.4 L550.0,885.9 L555.0,886.3 L560.0,886.6 L565.0,886.8 L570.0,887.0 L575.0,887.1 L579.9,887.0 L584.8,887.0 L589.7,886.8 L594.7,886.6 L599.7,886.4 L604.8,886.2 L610.0,886.0 L616.0,885.8 L622.2,885.7 L628.5,885.5 L634.8,885.3 L641.2,885.1 L647.6,884.8 L653.8,884.4 L660.0,884.0 L665.7,883.5 L671.4,882.9 L677.1,882.2 L682.7,881.4 L688.2,880.7 L693.8,879.9 L699.4,879.1 L705.0,878.4"/>
<path d="M384.0,889.0 L388.5,888.3 L393.0,887.6 L397.4,886.9 L401.9,886.2 L406.3,885.5 L410.9,884.9 L415.4,884.4 L420.0,884.0 L424.9,883.7 L429.8,883.5 L434.8,883.4 L439.9,883.4 L444.9,883.5 L450.0,883.6 L455.0,883.8 L460.0,884.0 L465.0,884.3 L470.0,884.8 L475.0,885.3 L480.0,885.9 L485.0,886.5 L490.0,887.0 L495.0,887.6 L500.0,888.0 L505.0,888.4 L510.0,888.7 L515.0,889.0 L520.0,889.3 L525.0,889.6 L530.0,889.8 L535.0,889.9 L540.0,890.0 L545.0,890.0 L549.9,889.9 L554.8,889.8 L559.7,889.6 L564.7,889.4 L569.7,889.2 L574.8,889.1 L580.0,889.0 L586.0,889.0 L592.1,889.1 L598.3,889.3 L604.7,889.4 L611.0,889.6 L617.4,889.8 L623.7,889.9 L630.0,890.0 L636.3,890.1 L642.6,890.1 L649.0,890.1 L655.3,890.1 L661.6,890.1 L667.8,890.1 L674.0,890.1 L680.0,890.0 L685.4,889.9 L690.6,889.8 L695.8,889.7 L701.0,889.6 L706.1,889.4 L711.2,889.3 L716.3,889.1 L721.5,889.0"/>
<path d="M395.8,891.0 L400.1,890.7 L404.3,890.4 L408.5,890.1 L412.7,889.8 L417.0,889.5 L421.3,889.3 L425.6,889.1 L430.0,889.0 L434.8,889.0 L439.8,889.0 L444.8,889.0 L449.8,889.2 L454.9,889.3 L459.9,889.5 L465.0,889.8 L470.0,890.0 L475.0,890.3 L480.0,890.7 L485.0,891.1 L490.0,891.5 L495.0,891.9 L500.0,892.3 L505.0,892.7 L510.0,893.0 L515.0,893.2 L519.9,893.4 L524.8,893.6 L529.7,893.7 L534.7,893.8 L539.7,893.9 L544.8,894.0 L550.0,894.0 L556.0,894.0 L562.0,893.9 L568.1,893.7 L574.4,893.6 L580.7,893.4 L587.0,893.2 L593.5,893.1 L600.0,893.0 L607.2,892.9 L614.5,892.9 L622.0,892.9 L629.5,893.0 L637.1,893.0 L644.7,893.0 L652.3,893.0 L660.0,893.0 L668.1,893.0 L676.3,892.9 L684.5,892.8 L692.8,892.7 L701.1,892.7 L709.4,892.6 L717.7,892.5 L726.0,892.4"/>
<path d="M411.0,876.0 L415.9,875.6 L420.7,875.1 L425.6,874.7 L430.5,874.2 L435.3,873.8 L440.2,873.4 L445.1,873.1 L450.0,873.0 L455.0,873.0 L460.0,873.1 L465.0,873.2 L470.0,873.5 L475.0,873.8 L480.0,874.2 L485.0,874.6 L490.0,875.0 L495.0,875.5 L500.1,876.0 L505.3,876.6 L510.4,877.2 L515.4,877.8 L520.4,878.5 L525.3,879.3 L530.0,880.0 L533.9,880.7 L537.7,881.3 L541.4,882.0 L545.0,882.8 L548.6,883.5 L552.3,884.3 L556.1,885.1 L560.0,886.0 L564.7,887.1 L569.5,888.3 L574.4,889.6 L579.4,890.9 L584.4,892.2 L589.5,893.5 L594.7,894.8 L600.0,896.0 L605.9,897.3 L612.0,898.6 L618.1,899.9 L624.3,901.2 L630.6,902.5 L637.0,903.7 L643.4,904.9 L650.0,906.0 L657.4,907.2 L665.0,908.4 L672.7,909.4 L680.6,910.5 L688.4,911.5 L696.3,912.6 L704.2,913.6 L712.0,914.7"/>
<path d="M426.0,898.0 L430.2,897.4 L434.4,896.7 L438.6,896.1 L442.8,895.4 L447.0,894.8 L451.3,894.2 L455.6,893.6 L460.0,893.0 L464.8,892.4 L469.8,891.9 L474.8,891.4 L479.8,891.0 L484.9,890.5 L489.9,890.0 L495.0,889.5 L500.0,889.0 L505.0,888.4 L510.0,887.8 L515.0,887.2 L520.0,886.6 L525.0,886.0 L530.0,885.3 L535.0,884.7 L540.0,884.0 L545.0,883.3 L550.0,882.5 L555.0,881.6 L560.0,880.8 L565.0,880.0 L570.0,879.2 L575.0,878.6 L580.0,878.0 L585.0,877.5 L590.0,877.1 L595.0,876.7 L600.0,876.4 L605.0,876.2 L610.0,876.1 L615.0,876.0 L620.0,876.0 L625.0,876.1 L630.0,876.3 L635.0,876.6 L640.0,877.0 L645.0,877.4 L650.0,877.9 L655.0,878.4 L660.0,879.0 L665.0,879.6 L670.0,880.3 L675.0,881.0 L680.0,881.8 L685.0,882.6 L690.0,883.4 L695.0,884.2 L700.0,885.0"/>
<path d="M560.0,880.0 L563.8,878.7 L567.6,877.4 L571.3,876.0 L575.1,874.6 L578.9,873.3 L582.7,872.1 L586.4,871.0 L590.0,870.0 L593.2,869.2 L596.4,868.5 L599.5,867.8 L602.6,867.2 L605.7,866.7 L608.8,866.3 L611.9,866.1 L615.0,866.0 L618.1,866.1 L621.3,866.3 L624.4,866.7 L627.5,867.1 L630.7,867.7 L633.8,868.4 L636.9,869.2 L640.0,870.0 L643.2,871.0 L646.3,872.1 L649.4,873.4 L652.5,874.7 L655.6,876.1 L658.7,877.5 L661.9,878.8 L665.0,880.0 L668.1,881.1 L671.3,882.2 L674.4,883.4 L677.6,884.4 L680.7,885.4 L683.8,886.4 L686.9,887.2 L690.0,888.0 L692.8,888.6 L695.6,889.0 L698.3,889.4 L701.1,889.8 L703.8,890.1 L706.5,890.3 L709.3,890.7 L712.0,891.0"/>
<path d="M470.0,868.0 L473.8,869.1 L477.5,870.2 L481.3,871.2 L485.0,872.3 L488.8,873.4 L492.5,874.5 L496.3,875.7 L500.0,877.0 L503.8,878.5 L507.5,880.1 L511.3,881.8 L515.0,883.6 L518.7,885.3 L522.5,887.0 L526.2,888.6 L530.0,890.0 L533.7,891.3 L537.4,892.6 L541.2,893.8 L544.9,894.9 L548.7,895.9 L552.4,896.8 L556.2,897.5 L560.0,898.0 L563.7,898.3 L567.5,898.3 L571.2,898.2 L575.0,898.0 L578.8,897.6 L582.5,897.1 L586.3,896.6 L590.0,896.0 L593.8,895.3 L597.5,894.3 L601.3,893.3 L605.0,892.1 L608.7,891.0 L612.5,889.9 L616.2,888.9 L620.0,888.0 L623.7,887.3 L627.5,886.7 L631.2,886.2 L635.0,885.8 L638.7,885.3 L642.5,884.9 L646.2,884.5 L650.0,884.0"/>
<path d="M408.5,888.1 L412.5,888.2 L416.4,888.3 L420.4,888.4 L424.4,888.5 L428.3,888.6 L432.3,888.6 L436.3,888.6 L440.2,888.4 L444.2,888.1 L448.2,887.8 L452.2,887.3 L456.1,886.8 L460.1,886.3 L464.1,885.7 L468.0,885.0 L472.0,884.4 L476.0,883.6 L479.9,882.7 L483.9,881.7 L487.8,880.7 L491.8,879.8 L495.8,878.9 L499.7,878.1 L503.7,877.6 L507.7,877.3 L511.6,877.0 L515.6,876.9 L519.6,876.9 L523.6,877.0 L527.5,877.2 L531.5,877.4 L535.5,877.7 L539.4,878.2 L543.4,878.8 L547.4,879.6 L551.3,880.4 L555.3,881.2 L559.2,882.0 L563.2,882.6 L567.2,883.0 L571.2,883.3 L575.1,883.4 L579.1,883.5 L583.1,883.5 L587.0,883.4 L591.0,883.2 L595.0,882.9 L598.9,882.6 L602.9,882.1 L606.9,881.4 L610.8,880.6 L614.8,879.7 L618.8,878.8 L622.7,877.9 L626.7,877.1 L630.7,876.5 L634.6,876.0 L638.6,875.5 L642.6,875.1 L646.5,874.8 L650.5,874.4 L654.5,874.1 L658.4,873.8 L662.4,873.4"/>
<path d="M408.6,889.9 L413.5,889.6 L418.3,889.2 L423.2,888.8 L428.0,888.4 L432.8,888.0 L437.7,887.6 L442.5,887.2 L447.4,886.8 L452.2,886.2 L457.1,885.5 L461.9,884.7 L466.8,883.9 L471.6,883.3 L476.5,882.8 L481.3,882.6 L486.1,882.8 L491.0,883.5 L495.8,884.8 L500.7,886.4 L505.5,888.2 L510.3,890.0 L515.1,891.7 L520.0,892.9 L524.8,893.7 L529.7,894.0 L534.5,894.0 L539.4,893.8 L544.2,893.3 L549.1,892.7 L553.9,892.0 L558.8,891.1 L563.6,890.3 L568.5,889.2 L573.3,887.7 L578.2,886.0 L583.0,884.2 L587.8,882.5 L592.6,881.1 L597.5,880.2 L602.3,879.8 L607.2,880.0 L612.0,880.9 L616.8,882.2 L621.7,883.7 L626.5,885.4 L631.3,887.0 L636.2,888.4 L641.1,889.4 L645.9,890.2 L650.7,890.9 L655.6,891.4 L660.4,891.9 L665.3,892.3 L670.1,892.6 L675.0,892.7 L679.8,892.7 L684.6,892.5 L689.5,892.1 L694.3,891.6 L699.2,890.9 L704.0,890.2 L708.9,889.5 L713.7,888.8 L718.5,888.2"/>
<path d="M409.5,890.5 L414.0,891.4 L418.5,892.4 L423.0,893.4 L427.6,894.4 L432.1,895.3 L436.6,896.0 L441.1,896.4 L445.6,896.5 L450.1,896.0 L454.7,895.2 L459.2,894.1 L463.7,892.7 L468.2,891.3 L472.7,889.9 L477.2,888.6 L481.7,887.5 L486.3,886.5 L490.8,885.4 L495.3,884.2 L499.9,883.1 L504.4,882.3 L508.9,881.7 L513.4,881.6 L517.9,881.9 L522.5,883.1 L527.0,885.1 L531.5,887.6 L535.9,890.5 L540.4,893.3 L544.9,895.9 L549.4,897.9 L554.0,899.2 L558.4,899.7 L562.9,899.7 L567.5,899.4 L572.0,898.8 L576.5,898.0 L581.1,897.1 L585.6,896.1 L590.1,895.1 L594.7,893.9 L599.2,892.4 L603.7,890.6 L608.2,888.8 L612.7,887.0 L617.2,885.6 L621.7,884.6 L626.3,884.3 L630.8,884.7 L635.3,885.7 L639.8,887.1 L644.3,888.9 L648.8,890.8 L653.3,892.5 L657.8,894.0 L662.4,895.1 L666.9,895.8 L671.4,896.2 L675.9,896.4 L680.4,896.6 L684.9,896.7 L689.5,896.7 L694.0,896.8 L698.5,897.0"/>
<path d="M416.5,881.4 L420.4,882.1 L424.4,882.8 L428.3,883.6 L432.3,884.3 L436.2,885.0 L440.2,885.6 L444.1,886.1 L448.1,886.5 L452.0,886.8 L456.0,887.0 L459.9,887.3 L463.9,887.4 L467.9,887.4 L471.8,887.2 L475.7,886.9 L479.7,886.4 L483.7,885.4 L487.6,883.8 L491.6,882.0 L495.5,880.1 L499.5,878.3 L503.4,876.8 L507.3,875.8 L511.3,875.5 L515.2,876.1 L519.2,877.5 L523.1,879.4 L527.0,881.6 L530.9,883.9 L534.9,886.1 L538.8,887.9 L542.8,889.2 L546.7,890.0 L550.7,890.6 L554.6,891.1 L558.6,891.3 L562.6,891.4 L566.6,891.3 L570.5,891.0 L574.4,890.5 L578.4,889.6 L582.4,888.1 L586.3,886.4 L590.3,884.4 L594.2,882.6 L598.1,881.0 L602.1,879.9 L606.0,879.4 L610.0,879.6 L613.9,880.4 L617.8,881.7 L621.8,883.1 L625.7,884.7 L629.7,886.3 L633.6,887.5 L637.6,888.4 L641.5,888.9 L645.5,889.2 L649.4,889.3 L653.4,889.3 L657.3,889.3 L661.3,889.2 L665.3,889.2 L669.2,889.2"/>
<path d="M486.1,882.2 L488.1,882.2 L490.1,882.1 L492.2,882.1 L494.2,882.1 L496.2,882.0 L498.3,881.9 L500.3,881.8 L502.3,881.7 L504.4,881.5 L506.4,881.3 L508.4,881.0 L510.5,880.7 L512.5,880.5 L514.5,880.2 L516.5,879.9 L518.6,879.7 L520.6,879.5 L522.6,879.3 L524.7,879.1 L526.7,878.9 L528.7,878.7 L530.8,878.6 L532.8,878.5 L534.8,878.4 L536.9,878.4 L538.9,878.5 L540.9,878.6 L543.0,878.7 L545.0,878.9 L547.0,879.1 L549.1,879.3 L551.1,879.5 L553.1,879.8 L555.2,880.2 L557.2,880.6 L559.2,881.0 L561.2,881.4 L563.3,881.8 L565.3,882.2 L567.3,882.6 L569.4,883.0 L571.4,883.4 L573.4,883.8 L575.5,884.2 L577.5,884.6 L579.5,885.0 L581.6,885.3 L583.6,885.6 L585.6,885.8 L587.6,886.0 L589.7,886.1 L591.7,886.2 L593.7,886.3 L595.8,886.4 L597.8,886.4 L599.8,886.4 L601.9,886.4 L603.9,886.3 L605.9,886.2 L608.0,886.1 L610.0,885.9 L612.0,885.7 L614.1,885.6 L616.1,885.4"/>
<path d="M410.5,871.6 L414.8,871.9 L419.1,872.1 L423.4,872.4 L427.6,872.6 L431.9,872.9 L436.2,873.2 L440.5,873.7 L444.7,874.2 L449.0,875.0 L453.3,875.9 L457.6,876.9 L461.8,878.0 L466.1,879.1 L470.4,880.2 L474.6,881.2 L478.9,882.1 L483.2,883.0 L487.5,883.9 L491.7,884.8 L496.0,885.6 L500.3,886.3 L504.6,887.0 L508.8,887.4 L513.1,887.7 L517.4,887.6 L521.7,887.2 L526.0,886.5 L530.3,885.7 L534.6,885.0 L538.9,884.5 L543.1,884.4 L547.3,884.7 L551.7,885.8 L556.0,887.5 L560.2,889.6 L564.4,891.9 L568.7,894.2 L572.9,896.3 L577.2,898.0 L581.5,899.0 L585.8,899.2 L590.0,898.9 L594.3,898.1 L598.6,897.1 L602.9,896.1 L607.2,895.3 L611.5,894.9 L615.8,895.0 L620.1,895.8 L624.4,897.1 L628.6,898.8 L632.9,900.7 L637.1,902.7 L641.4,904.6 L645.6,906.3 L650.0,907.6 L654.2,908.6 L658.5,909.3 L662.7,910.0 L667.0,910.5 L671.3,911.0 L675.6,911.5 L679.9,912.0 L684.2,912.5"/>
<path d="M431.3,901.5 L434.9,901.3 L438.4,901.2 L442.0,901.1 L445.5,901.0 L449.1,900.8 L452.6,900.6 L456.2,900.4 L459.7,900.0 L463.3,899.5 L466.8,898.7 L470.4,897.8 L474.0,896.9 L477.5,896.1 L481.1,895.4 L484.6,895.1 L488.1,895.1 L491.7,895.7 L495.3,896.8 L498.8,898.3 L502.4,900.0 L505.9,901.6 L509.5,903.0 L513.0,903.9 L516.5,904.3 L520.1,903.9 L523.6,902.9 L527.2,901.6 L530.7,900.0 L534.2,898.3 L537.8,896.7 L541.4,895.4 L545.0,894.4 L548.5,893.8 L552.0,893.3 L555.6,893.0 L559.2,892.7 L562.7,892.6 L566.3,892.7 L569.9,893.0 L573.4,893.4 L577.0,894.3 L580.5,895.6 L584.1,897.3 L587.6,899.0 L591.1,900.7 L594.7,902.2 L598.2,903.4 L601.8,904.0 L605.3,904.0 L608.8,903.6 L612.4,902.8 L615.9,901.8 L619.5,900.7 L623.1,899.8 L626.6,899.1 L630.2,898.7 L633.7,898.8 L637.3,899.0 L640.8,899.5 L644.4,900.0 L648.0,900.6 L651.5,901.3 L655.1,901.9 L658.6,902.4"/>
<path d="M499.6,889.8 L502.1,889.3 L504.6,888.7 L507.0,888.2 L509.5,887.7 L511.9,887.2 L514.4,886.7 L516.9,886.2 L519.4,885.8 L521.8,885.4 L524.3,885.1 L526.7,884.7 L529.2,884.4 L531.7,884.1 L534.1,883.8 L536.6,883.6 L539.1,883.5 L541.5,883.4 L544.0,883.4 L546.5,883.5 L548.9,883.6 L551.4,883.8 L553.9,883.9 L556.4,884.1 L558.8,884.3 L561.3,884.5 L563.7,884.8 L566.2,885.0 L568.7,885.3 L571.1,885.6 L573.6,885.9 L576.1,886.1 L578.5,886.2 L581.0,886.3 L583.5,886.4 L585.9,886.4 L588.4,886.4 L590.9,886.3 L593.4,886.2 L595.8,886.0 L598.3,885.8 L600.8,885.5 L603.2,885.1 L605.7,884.7 L608.2,884.2 L610.6,883.7 L613.1,883.1 L615.5,882.6 L618.0,882.0 L620.5,881.5 L622.9,880.9 L625.4,880.3 L627.9,879.7 L630.3,879.1 L632.8,878.5 L635.3,878.0 L637.7,877.5 L640.2,877.1 L642.7,876.7 L645.1,876.4 L647.6,876.1 L650.1,875.8 L652.5,875.5 L655.0,875.2 L657.5,874.9"/>
<path d="M427.4,866.2 L430.7,866.2 L434.0,866.2 L437.4,866.3 L440.7,866.3 L444.0,866.3 L447.3,866.4 L450.6,866.4 L453.9,866.5 L457.3,866.6 L460.6,866.6 L463.9,866.7 L467.2,866.8 L470.5,866.9 L473.9,867.0 L477.2,867.3 L480.5,867.6 L483.8,868.1 L487.1,868.7 L490.5,869.4 L493.8,870.1 L497.1,870.8 L500.4,871.6 L503.7,872.4 L507.0,873.1 L510.3,873.9 L513.6,874.7 L517.0,875.6 L520.3,876.4 L523.6,877.3 L526.9,878.0 L530.2,878.7 L533.5,879.2 L536.8,879.6 L540.2,879.8 L543.5,880.0 L546.8,880.2 L550.1,880.2 L553.4,880.2 L556.8,880.2 L560.1,880.1 L563.4,879.9 L566.7,879.6 L570.0,879.3 L573.3,878.9 L576.7,878.4 L580.0,878.1 L583.3,877.7 L586.6,877.5 L589.9,877.4 L593.2,877.3 L596.6,877.2 L599.9,877.2 L603.2,877.2 L606.5,877.2 L609.8,877.3 L613.1,877.5 L616.5,877.7 L619.8,878.0 L623.1,878.3 L626.4,878.7 L629.7,879.1 L633.0,879.5 L636.4,879.9 L639.7,880.3"/>
<path d="M408.4,870.7 L412.8,871.4 L417.2,872.2 L421.7,873.0 L426.1,873.7 L430.5,874.5 L435.0,875.1 L439.4,875.5 L443.9,875.8 L448.3,875.8 L452.7,875.6 L457.2,875.4 L461.6,874.9 L466.1,874.4 L470.5,873.9 L474.9,873.2 L479.4,872.6 L483.8,871.8 L488.3,870.7 L492.7,869.5 L497.1,868.2 L501.6,867.1 L506.0,866.1 L510.4,865.5 L514.9,865.3 L519.3,865.5 L523.8,866.2 L528.2,867.1 L532.7,868.2 L537.1,869.5 L541.5,870.8 L546.0,872.2 L550.4,873.4 L554.8,874.8 L559.3,876.4 L563.7,878.1 L568.1,879.8 L572.5,881.5 L577.0,882.8 L581.4,883.9 L585.9,884.5 L590.3,884.6 L594.7,884.2 L599.2,883.6 L603.6,882.7 L608.1,881.7 L612.5,880.7 L617.0,879.6 L621.4,878.7 L625.8,877.8 L630.3,876.7 L634.7,875.6 L639.1,874.5 L643.6,873.4 L648.0,872.5 L652.4,871.7 L656.9,871.3 L661.3,871.2 L665.8,871.3 L670.2,871.7 L674.6,872.2 L679.1,872.7 L683.5,873.3 L688.0,873.9 L692.4,874.3"/>
<path d="M479.5,867.4 L481.8,867.3 L484.0,867.3 L486.3,867.2 L488.6,867.1 L490.8,867.0 L493.1,866.9 L495.3,866.8 L497.6,866.7 L499.8,866.6 L502.1,866.4 L504.3,866.1 L506.6,865.9 L508.8,865.7 L511.1,865.6 L513.3,865.5 L515.6,865.5 L517.9,865.6 L520.1,865.8 L522.4,866.0 L524.6,866.3 L526.9,866.6 L529.1,867.0 L531.4,867.5 L533.6,867.9 L535.9,868.5 L538.2,869.2 L540.4,870.0 L542.7,870.8 L544.9,871.6 L547.1,872.4 L549.4,873.2 L551.7,873.9 L553.9,874.6 L556.1,875.4 L558.4,876.1 L560.6,876.9 L562.9,877.5 L565.1,878.1 L567.4,878.7 L569.7,879.1 L571.9,879.4 L574.2,879.6 L576.4,879.8 L578.7,879.8 L580.9,879.9 L583.2,879.8 L585.5,879.7 L587.7,879.6 L590.0,879.4 L592.2,879.1 L594.5,878.7 L596.7,878.3 L599.0,877.8 L601.2,877.4 L603.5,877.0 L605.7,876.6 L608.0,876.3 L610.2,876.1 L612.5,875.8 L614.8,875.6 L617.0,875.4 L619.3,875.2 L621.5,874.9 L623.8,874.7"/>
<path d="M484.6,877.7 L486.8,877.9 L489.0,878.2 L491.3,878.5 L493.5,878.8 L495.7,879.0 L497.9,879.1 L500.2,879.2 L502.4,879.1 L504.6,878.8 L506.9,878.3 L509.1,877.8 L511.3,877.2 L513.5,876.5 L515.8,875.8 L518.0,875.1 L520.2,874.4 L522.4,873.7 L524.7,872.9 L526.9,872.1 L529.1,871.2 L531.3,870.4 L533.5,869.7 L535.8,869.1 L538.0,868.6 L540.2,868.3 L542.5,868.1 L544.7,867.9 L547.0,867.8 L549.2,867.8 L551.4,867.9 L553.7,868.1 L555.9,868.5 L558.1,869.0 L560.4,869.7 L562.6,870.5 L564.8,871.4 L567.0,872.4 L569.3,873.4 L571.5,874.4 L573.7,875.4 L575.9,876.5 L578.1,877.6 L580.4,878.8 L582.6,880.0 L584.8,881.1 L587.0,882.3 L589.2,883.3 L591.5,884.2 L593.7,884.9 L595.9,885.6 L598.1,886.2 L600.4,886.8 L602.6,887.2 L604.8,887.6 L607.1,887.9 L609.3,888.1 L611.5,888.1 L613.8,888.0 L616.0,887.7 L618.2,887.4 L620.5,887.0 L622.7,886.6 L624.9,886.3 L627.2,886.0"/>
<path d="M440.8,894.4 L443.9,894.0 L447.0,893.7 L450.1,893.4 L453.2,893.1 L456.3,892.7 L459.4,892.3 L462.5,891.9 L465.6,891.3 L468.7,890.6 L471.8,889.8 L474.9,888.9 L478.0,888.0 L481.1,887.0 L484.2,886.2 L487.3,885.4 L490.4,884.8 L493.5,884.3 L496.6,883.9 L499.7,883.6 L502.8,883.3 L505.9,883.2 L509.0,883.1 L512.1,883.1 L515.2,883.2 L518.3,883.4 L521.4,883.8 L524.5,884.4 L527.6,885.0 L530.7,885.6 L533.8,886.2 L536.9,886.6 L540.0,886.9 L543.1,887.0 L546.2,887.0 L549.3,886.9 L552.5,886.8 L555.6,886.6 L558.7,886.3 L561.8,885.9 L564.8,885.4 L568.0,884.8 L571.1,884.1 L574.2,883.2 L577.3,882.2 L580.3,881.2 L583.4,880.3 L586.5,879.5 L589.7,878.8 L592.7,878.2 L595.8,877.7 L598.9,877.3 L602.0,877.0 L605.2,876.6 L608.3,876.4 L611.4,876.1 L614.5,875.9 L617.6,875.7 L620.7,875.6 L623.8,875.5 L626.9,875.5 L630.0,875.5 L633.1,875.4 L636.2,875.4 L639.3,875.4"/>
<path d="M483.7,884.3 L487.0,885.0 L490.3,885.6 L493.5,886.3 L496.8,886.9 L500.1,887.6 L503.3,888.3 L506.6,888.9 L509.9,889.6 L513.1,890.4 L516.4,891.2 L519.7,892.2 L522.9,893.0 L526.2,893.9 L529.5,894.5 L532.7,895.0 L536.0,895.2 L539.3,895.1 L542.5,894.8 L545.8,894.4 L549.1,893.7 L552.3,893.0 L555.6,892.2 L558.9,891.4 L562.1,890.6 L565.4,889.6 L568.7,888.5 L571.9,887.3 L575.2,886.0 L578.4,884.8 L581.7,883.8 L585.0,883.0 L588.2,882.5 L591.5,882.3 L594.8,882.3 L598.0,882.6 L601.3,882.9 L604.6,883.5 L607.9,884.1 L611.1,884.9 L614.4,885.8 L617.7,886.9 L621.0,888.3 L624.2,889.9 L627.4,891.7 L630.7,893.4 L633.9,895.1 L637.2,896.6 L640.5,897.9 L643.7,899.0 L646.9,900.1 L650.2,901.0 L653.5,901.9 L656.7,902.7 L660.0,903.4 L663.3,903.9 L666.6,904.3 L669.9,904.5 L673.1,904.5 L676.4,904.3 L679.6,904.1 L682.9,903.8 L686.2,903.5 L689.5,903.2 L692.7,903.0"/>
<path d="M410.7,866.6 L414.9,867.1 L419.1,867.5 L423.3,867.8 L427.5,868.2 L431.7,868.7 L435.9,869.2 L440.0,869.9 L444.2,870.8 L448.4,872.0 L452.6,873.5 L456.7,875.2 L460.9,877.0 L465.0,878.8 L469.2,880.5 L473.4,881.8 L477.6,882.8 L481.7,883.4 L485.9,883.9 L490.1,884.2 L494.3,884.3 L498.5,884.2 L502.7,884.0 L506.9,883.6 L511.1,883.0 L515.3,882.1 L519.5,880.8 L523.6,879.2 L527.8,877.5 L531.9,875.8 L536.1,874.2 L540.3,873.0 L544.5,872.3 L548.6,872.0 L552.8,871.9 L557.0,872.0 L561.3,872.4 L565.5,872.9 L569.7,873.6 L573.8,874.5 L577.9,875.5 L582.2,876.8 L586.4,878.6 L590.5,880.6 L594.7,882.8 L598.8,884.9 L603.0,887.0 L607.1,888.7 L611.4,890.1 L615.5,891.1 L619.6,891.9 L623.8,892.6 L628.0,893.1 L632.2,893.4 L636.4,893.7 L640.6,893.9 L644.8,894.0 L649.0,894.0 L653.2,893.9 L657.4,893.6 L661.5,893.3 L665.7,892.9 L669.9,892.6 L674.1,892.2 L678.3,891.9"/>
<path d="M398.7,869.7 L402.6,870.1 L406.4,870.4 L410.3,870.7 L414.1,871.1 L418.0,871.4 L421.8,871.9 L425.7,872.4 L429.5,873.0 L433.4,873.7 L437.2,874.5 L441.1,875.4 L444.9,876.3 L448.8,877.3 L452.6,878.4 L456.4,879.4 L460.3,880.6 L464.1,881.9 L468.0,883.4 L471.8,885.0 L475.6,886.7 L479.5,888.3 L483.3,889.6 L487.2,890.7 L491.0,891.4 L494.9,891.6 L498.7,891.3 L502.5,890.8 L506.4,890.1 L510.2,889.3 L514.1,888.6 L518.0,888.1 L521.8,887.9 L525.7,888.0 L529.5,888.2 L533.4,888.5 L537.3,889.0 L541.1,889.5 L545.0,890.2 L548.8,890.9 L552.6,891.8 L556.5,893.0 L560.3,894.4 L564.2,896.0 L568.0,897.7 L571.8,899.4 L575.6,900.9 L579.5,902.3 L583.4,903.4 L587.2,904.0 L591.0,904.5 L594.9,904.7 L598.7,904.8 L602.6,904.9 L606.5,905.1 L610.3,905.4 L614.2,905.9 L618.0,906.6 L621.9,907.5 L625.7,908.4 L629.6,909.5 L633.4,910.5 L637.2,911.6 L641.1,912.7 L644.9,913.7"/>
<path d="M401.4,888.5 L406.2,888.6 L411.0,888.8 L415.8,889.0 L420.6,889.1 L425.4,889.3 L430.2,889.4 L435.0,889.4 L439.8,889.3 L444.6,889.1 L449.4,888.8 L454.2,888.5 L459.0,888.1 L463.8,887.6 L468.6,887.1 L473.4,886.7 L478.2,886.2 L483.1,885.7 L487.9,885.0 L492.7,884.3 L497.5,883.6 L502.3,882.9 L507.1,882.4 L511.9,882.2 L516.7,882.2 L521.5,882.7 L526.3,883.6 L531.1,884.9 L535.9,886.2 L540.7,887.5 L545.5,888.6 L550.3,889.2 L555.1,889.2 L559.9,888.4 L564.7,886.9 L569.6,884.9 L574.3,882.6 L579.1,880.4 L583.9,878.5 L588.7,877.1 L593.5,876.6 L598.3,877.0 L603.1,878.4 L607.9,880.3 L612.7,882.6 L617.5,884.8 L622.3,886.7 L627.1,888.1 L631.9,888.6 L636.7,888.2 L641.5,887.0 L646.3,885.3 L651.1,883.2 L655.9,881.2 L660.7,879.2 L665.5,877.7 L670.4,876.8 L675.1,876.6 L679.9,876.7 L684.7,877.1 L689.5,877.8 L694.4,878.5 L699.2,879.3 L704.0,880.0 L708.8,880.6"/>
<path d="M419.3,865.9 L422.2,866.1 L425.1,866.1 L428.1,866.1 L431.0,866.1 L433.9,866.2 L436.8,866.4 L439.7,866.8 L442.5,867.4 L445.5,868.4 L448.4,869.6 L451.3,871.0 L454.2,872.5 L457.0,874.1 L459.9,875.7 L462.8,877.2 L465.7,878.6 L468.6,879.9 L471.5,881.3 L474.4,882.7 L477.2,884.1 L480.1,885.3 L483.1,886.3 L486.0,887.1 L488.9,887.4 L491.8,887.3 L494.7,886.8 L497.6,886.0 L500.5,885.0 L503.4,883.9 L506.3,882.8 L509.2,881.8 L512.1,881.0 L515.0,880.2 L517.9,879.3 L520.8,878.4 L523.7,877.5 L526.6,876.7 L529.5,876.2 L532.4,875.9 L535.3,876.0 L538.2,876.5 L541.1,877.4 L544.0,878.6 L546.9,880.0 L549.8,881.5 L552.7,883.0 L555.6,884.5 L558.5,885.8 L561.3,887.1 L564.2,888.4 L567.1,889.7 L570.0,891.0 L572.9,892.3 L575.8,893.4 L578.7,894.3 L581.6,895.0 L584.5,895.5 L587.4,895.7 L590.3,895.8 L593.2,895.7 L596.1,895.6 L599.0,895.5 L601.9,895.4 L604.8,895.4"/>
<path d="M432.0,876.6 L434.9,877.4 L437.7,878.4 L440.6,879.4 L443.5,880.4 L446.4,881.2 L449.3,881.9 L452.2,882.3 L455.0,882.4 L457.9,882.0 L460.8,881.1 L463.7,879.9 L466.5,878.6 L469.4,877.1 L472.3,875.8 L475.1,874.6 L478.1,873.8 L480.9,873.1 L483.8,872.5 L486.8,872.0 L489.7,871.6 L492.6,871.3 L495.5,871.3 L498.3,871.6 L501.1,872.3 L504.1,873.7 L507.0,875.9 L509.8,878.5 L512.6,881.4 L515.4,884.4 L518.2,887.1 L521.1,889.4 L524.1,891.0 L526.9,891.9 L529.8,892.6 L532.7,893.0 L535.6,893.2 L538.6,893.3 L541.5,893.1 L544.4,892.7 L547.2,892.1 L550.2,891.0 L553.0,889.3 L555.9,887.3 L558.7,885.1 L561.6,882.9 L564.4,881.0 L567.3,879.5 L570.2,878.6 L573.1,878.4 L575.9,878.6 L578.8,879.1 L581.7,879.9 L584.6,880.8 L587.5,881.8 L590.4,882.7 L593.3,883.5 L596.2,884.3 L599.1,885.2 L601.9,886.0 L604.8,886.9 L607.7,887.8 L610.6,888.8 L613.5,889.7 L616.3,890.6"/>
<path d="M454.0,899.5 L458.1,899.2 L462.3,899.0 L466.4,898.7 L470.6,898.4 L474.8,898.2 L478.9,898.0 L483.1,897.9 L487.3,897.9 L491.4,898.0 L495.6,898.2 L499.8,898.6 L503.9,898.9 L508.1,899.3 L512.2,899.7 L516.4,900.0 L520.6,900.2 L524.7,900.2 L528.9,900.3 L533.1,900.3 L537.2,900.3 L541.4,900.2 L545.6,900.1 L549.7,899.9 L553.9,899.6 L558.1,899.1 L562.2,898.5 L566.4,897.7 L570.5,896.9 L574.7,896.2 L578.9,895.5 L583.0,894.9 L587.2,894.6 L591.3,894.4 L595.5,894.3 L599.7,894.4 L603.9,894.5 L608.0,894.7 L612.2,895.0 L616.4,895.4 L620.5,895.9 L624.7,896.6 L628.8,897.5 L633.0,898.5 L637.2,899.6 L641.3,900.6 L645.5,901.7 L649.6,902.6 L653.8,903.3 L658.0,903.8 L662.1,904.3 L666.3,904.6 L670.4,904.9 L674.6,905.1 L678.8,905.3 L682.9,905.4 L687.1,905.4 L691.3,905.4 L695.4,905.3 L699.6,905.2 L703.8,904.9 L707.9,904.7 L712.1,904.4 L716.3,904.2 L720.4,904.0"/>
<path d="M410.1,862.7 L414.0,863.4 L417.9,864.1 L421.8,864.8 L425.7,865.5 L429.6,866.2 L433.4,867.1 L437.3,868.1 L441.1,869.2 L445.0,870.7 L448.9,872.4 L452.8,874.3 L456.6,876.3 L460.4,878.3 L464.3,880.2 L468.2,881.8 L472.1,883.1 L475.9,884.1 L479.8,884.9 L483.7,885.6 L487.6,886.1 L491.5,886.5 L495.4,886.7 L499.3,886.7 L503.1,886.5 L507.0,886.0 L510.9,885.0 L514.8,883.8 L518.6,882.4 L522.5,881.1 L526.3,879.8 L530.2,878.8 L534.1,878.3 L538.0,878.0 L541.9,877.9 L545.8,878.0 L549.7,878.2 L553.6,878.6 L557.5,879.2 L561.3,880.0 L565.1,880.9 L569.1,882.3 L573.0,884.1 L576.8,886.1 L580.7,888.4 L584.5,890.6 L588.3,892.8 L592.2,894.9 L596.1,896.6 L599.9,898.0 L603.8,899.4 L607.6,900.6 L611.5,901.8 L615.4,902.8 L619.3,903.8 L623.2,904.6 L627.1,905.3 L631.0,905.9 L634.8,906.3 L638.7,906.6 L642.6,906.7 L646.5,906.9 L650.4,907.0 L654.2,907.1 L658.1,907.3"/>
<path d="M423.1,873.9 L427.4,873.7 L431.7,873.4 L436.0,873.2 L440.3,873.0 L444.6,872.8 L448.9,872.5 L453.2,872.3 L457.5,872.1 L461.8,871.8 L466.2,871.4 L470.5,871.0 L474.8,870.6 L479.1,870.3 L483.4,870.1 L487.7,870.2 L492.0,870.6 L496.3,871.5 L500.6,872.9 L504.9,874.6 L509.2,876.4 L513.5,878.2 L517.8,879.9 L522.1,881.3 L526.4,882.2 L530.7,882.7 L535.0,882.9 L539.3,882.9 L543.6,882.7 L548.0,882.4 L552.3,881.9 L556.6,881.3 L560.9,880.7 L565.2,879.8 L569.5,878.5 L573.8,877.0 L578.1,875.5 L582.4,874.0 L586.7,872.7 L591.0,871.7 L595.3,871.3 L599.6,871.5 L603.9,872.1 L608.2,873.0 L612.5,874.2 L616.8,875.5 L621.2,876.7 L625.5,877.8 L629.8,878.6 L634.1,879.2 L638.4,879.8 L642.7,880.3 L647.0,880.8 L651.3,881.2 L655.6,881.5 L660.0,881.6 L664.3,881.7 L668.6,881.5 L672.9,881.2 L677.2,880.8 L681.5,880.2 L685.8,879.6 L690.1,879.0 L694.4,878.4 L698.7,877.9"/>
<path d="M458.6,873.7 L462.0,874.2 L465.4,874.6 L468.8,875.1 L472.1,875.5 L475.5,876.0 L478.9,876.3 L482.3,876.6 L485.7,876.7 L489.1,876.7 L492.5,876.5 L495.9,876.2 L499.2,875.8 L502.6,875.4 L506.0,875.1 L509.4,874.9 L512.8,874.9 L516.2,875.0 L519.6,875.1 L523.0,875.4 L526.4,875.7 L529.8,876.1 L533.2,876.6 L536.5,877.3 L539.9,878.0 L543.3,879.0 L546.7,880.3 L550.1,881.6 L553.4,883.1 L556.8,884.6 L560.2,886.1 L563.6,887.4 L567.0,888.6 L570.3,889.7 L573.7,890.7 L577.1,891.7 L580.4,892.7 L583.8,893.5 L587.2,894.2 L590.6,894.8 L594.0,895.2 L597.4,895.3 L600.8,895.2 L604.2,895.0 L607.6,894.6 L611.0,894.2 L614.4,893.8 L617.7,893.5 L621.1,893.3 L624.5,893.1 L627.9,892.9 L631.3,892.8 L634.7,892.7 L638.1,892.6 L641.5,892.6 L644.9,892.7 L648.2,893.0 L651.6,893.5 L655.0,894.1 L658.4,894.8 L661.8,895.7 L665.2,896.6 L668.5,897.5 L671.9,898.3 L675.3,899.1"/>
<path d="M478.9,885.1 L481.6,885.9 L484.3,886.7 L487.0,887.5 L489.7,888.3 L492.4,889.0 L495.1,889.7 L497.8,890.3 L500.5,890.8 L503.2,891.2 L505.9,891.6 L508.6,891.9 L511.3,892.1 L514.1,892.3 L516.8,892.2 L519.5,892.1 L522.1,891.8 L524.9,891.2 L527.6,890.2 L530.3,889.1 L532.9,887.9 L535.6,886.6 L538.3,885.4 L541.0,884.5 L543.8,883.8 L546.4,883.3 L549.1,883.0 L551.9,882.7 L554.6,882.6 L557.3,882.6 L560.1,882.8 L562.7,883.1 L565.4,883.7 L568.2,884.6 L570.9,885.9 L573.6,887.5 L576.2,889.3 L578.9,891.0 L581.6,892.8 L584.3,894.4 L587.0,895.7 L589.7,896.8 L592.3,897.9 L595.0,898.9 L597.7,899.8 L600.5,900.6 L603.2,901.2 L605.9,901.7 L608.6,902.0 L611.3,902.0 L614.0,901.8 L616.7,901.3 L619.4,900.7 L622.1,900.1 L624.8,899.5 L627.6,899.1 L630.3,898.8 L633.0,898.8 L635.7,898.8 L638.4,899.0 L641.1,899.2 L643.8,899.5 L646.5,899.7 L649.2,900.0 L651.9,900.2"/>
<path d="M405.1,884.8 L408.8,884.6 L412.4,884.5 L416.1,884.3 L419.8,884.1 L423.5,883.9 L427.2,883.8 L430.8,883.7 L434.5,883.8 L438.2,884.0 L441.9,884.3 L445.6,884.6 L449.2,885.1 L452.9,885.5 L456.6,885.9 L460.3,886.1 L464.0,886.2 L467.7,886.2 L471.3,886.1 L475.0,886.0 L478.7,885.7 L482.4,885.4 L486.1,885.0 L489.7,884.6 L493.4,884.0 L497.1,883.3 L500.8,882.5 L504.5,881.5 L508.1,880.4 L511.8,879.4 L515.5,878.4 L519.2,877.5 L522.9,876.8 L526.5,876.2 L530.2,875.7 L533.9,875.3 L537.6,875.0 L541.2,874.7 L544.9,874.6 L548.6,874.5 L552.3,874.6 L556.0,874.8 L559.7,875.3 L563.3,875.8 L567.0,876.5 L570.7,877.2 L574.4,877.8 L578.0,878.4 L581.7,878.8 L585.4,879.0 L589.1,879.3 L592.8,879.5 L596.5,879.6 L600.1,879.7 L603.8,879.7 L607.5,879.7 L611.2,879.5 L614.9,879.2 L618.5,878.8 L622.2,878.2 L625.9,877.7 L629.6,877.0 L633.3,876.4 L636.9,875.8 L640.6,875.2"/>
<path d="M461.9,892.2 L465.8,892.3 L469.7,892.3 L473.6,892.4 L477.6,892.4 L481.5,892.5 L485.4,892.6 L489.3,892.8 L493.2,893.0 L497.2,893.4 L501.1,894.0 L505.1,894.8 L509.0,895.5 L512.9,896.1 L516.8,896.6 L520.7,896.7 L524.6,896.3 L528.6,895.3 L532.5,893.6 L536.4,891.6 L540.3,889.3 L544.1,887.1 L548.0,885.0 L552.0,883.3 L555.9,882.1 L559.8,881.6 L563.7,881.2 L567.7,881.1 L571.6,881.3 L575.6,881.6 L579.5,882.1 L583.4,882.8 L587.3,883.6 L591.3,884.9 L595.2,886.7 L599.1,888.8 L603.0,891.1 L606.9,893.3 L610.8,895.1 L614.7,896.5 L618.7,897.1 L622.5,897.0 L626.4,896.2 L630.3,895.0 L634.3,893.5 L638.2,891.8 L642.1,890.1 L646.1,888.6 L650.0,887.5 L653.9,886.6 L657.8,885.7 L661.7,884.8 L665.7,884.0 L669.6,883.4 L673.5,882.8 L677.4,882.5 L681.4,882.3 L685.3,882.4 L689.2,882.7 L693.1,883.2 L697.0,883.8 L701.0,884.5 L704.9,885.3 L708.8,885.9 L712.7,886.5"/>
<path d="M435.4,897.7 L438.3,897.7 L441.2,897.6 L444.0,897.6 L446.9,897.5 L449.8,897.5 L452.7,897.5 L455.5,897.7 L458.4,898.1 L461.3,898.7 L464.1,899.6 L467.0,900.6 L469.9,901.6 L472.7,902.7 L475.6,903.8 L478.4,904.6 L481.3,905.3 L484.2,905.8 L487.1,906.3 L490.0,906.7 L492.9,906.9 L495.8,907.1 L498.6,907.1 L501.5,906.9 L504.3,906.5 L507.2,905.7 L510.1,904.6 L513.0,903.3 L515.8,901.7 L518.7,900.1 L521.5,898.5 L524.4,897.0 L527.3,895.7 L530.1,894.4 L533.0,893.1 L535.8,891.7 L538.7,890.4 L541.6,889.1 L544.5,888.1 L547.3,887.4 L550.2,887.0 L553.1,886.9 L556.0,887.1 L558.8,887.6 L561.7,888.3 L564.6,889.1 L567.5,890.0 L570.4,890.9 L573.2,891.7 L576.1,892.7 L579.0,893.8 L581.8,895.1 L584.7,896.4 L587.5,897.6 L590.4,898.8 L593.3,899.8 L596.2,900.6 L599.0,901.1 L601.9,901.4 L604.7,901.5 L607.6,901.6 L610.5,901.6 L613.4,901.6 L616.3,901.7 L619.2,901.8"/>
<path d="M442.0,863.5 L445.6,864.3 L449.2,865.0 L452.8,865.7 L456.4,866.5 L460.0,867.2 L463.5,868.1 L467.1,869.0 L470.6,870.1 L474.2,871.5 L477.8,873.1 L481.3,874.9 L484.9,876.8 L488.4,878.6 L492.0,880.3 L495.6,881.6 L499.2,882.6 L502.7,883.2 L506.3,883.7 L509.9,883.9 L513.5,884.0 L517.1,883.8 L520.7,883.6 L524.2,883.2 L527.8,882.6 L531.4,881.8 L535.0,880.6 L538.5,879.1 L542.1,877.5 L545.6,876.0 L549.2,874.6 L552.8,873.5 L556.4,872.9 L559.9,872.6 L563.5,872.6 L567.1,872.7 L570.7,873.1 L574.3,873.6 L577.9,874.3 L581.5,875.2 L585.0,876.2 L588.6,877.6 L592.2,879.4 L595.7,881.5 L599.3,883.7 L602.8,885.9 L606.3,888.0 L609.9,889.9 L613.5,891.5 L617.1,892.7 L620.6,893.8 L624.2,894.8 L627.7,895.7 L631.3,896.4 L634.9,897.0 L638.5,897.5 L642.1,897.9 L645.7,898.2 L649.3,898.2 L652.8,898.2 L656.4,898.0 L660.0,897.8 L663.6,897.5 L667.1,897.3 L670.7,897.2"/>
<path d="M447.1,866.4 L451.2,867.2 L455.3,868.0 L459.4,868.7 L463.6,869.5 L467.7,870.3 L471.8,871.2 L475.9,872.1 L480.0,873.1 L484.1,874.3 L488.2,875.7 L492.3,877.2 L496.4,878.7 L500.5,880.2 L504.6,881.4 L508.7,882.3 L512.9,882.7 L517.0,882.6 L521.1,881.8 L525.2,880.6 L529.4,879.3 L533.5,878.0 L537.6,877.0 L541.7,876.4 L545.7,876.5 L549.9,877.6 L554.0,879.4 L558.1,881.7 L562.2,884.4 L566.2,887.0 L570.3,889.5 L574.4,891.6 L578.6,893.0 L582.7,893.7 L586.7,893.9 L590.8,893.9 L595.0,893.7 L599.1,893.3 L603.3,893.0 L607.4,892.8 L611.5,892.8 L615.6,892.9 L619.8,893.0 L623.9,893.1 L628.0,893.2 L632.2,893.5 L636.3,893.9 L640.3,894.5 L644.4,895.3 L648.6,896.6 L652.7,898.3 L656.8,900.3 L660.8,902.4 L664.9,904.5 L669.0,906.4 L673.1,908.1 L677.3,909.3 L681.3,910.1 L685.4,910.6 L689.5,910.8 L693.6,910.9 L697.8,911.0 L701.9,911.0 L706.0,911.0 L710.2,911.2"/>
<path d="M442.8,897.8 L446.1,896.8 L449.3,895.8 L452.6,894.6 L455.9,893.5 L459.2,892.5 L462.5,891.6 L465.8,890.9 L469.1,890.4 L472.4,890.1 L475.7,889.9 L479.0,890.0 L482.3,890.1 L485.6,890.4 L488.9,890.7 L492.2,891.1 L495.5,891.5 L498.8,892.2 L502.1,893.1 L505.4,894.2 L508.7,895.3 L512.0,896.3 L515.3,897.2 L518.5,897.7 L521.8,897.8 L525.1,897.5 L528.4,896.8 L531.7,895.8 L535.0,894.7 L538.3,893.3 L541.6,891.9 L544.9,890.5 L548.2,889.2 L551.5,887.7 L554.8,886.0 L558.0,884.1 L561.3,882.2 L564.6,880.4 L567.8,878.8 L571.2,877.6 L574.5,876.8 L577.7,876.5 L581.0,876.6 L584.3,877.0 L587.6,877.6 L590.9,878.3 L594.2,879.0 L597.6,879.7 L600.9,880.4 L604.2,881.0 L607.4,881.8 L610.7,882.6 L614.0,883.5 L617.3,884.2 L620.6,884.9 L623.9,885.3 L627.2,885.4 L630.5,885.3 L633.8,884.8 L637.1,884.1 L640.4,883.3 L643.7,882.4 L647.0,881.5 L650.3,880.7 L653.5,879.9"/>
<path d="M447.4,884.2 L450.1,884.9 L452.7,885.7 L455.4,886.4 L458.0,887.2 L460.6,887.9 L463.3,888.5 L465.9,889.0 L468.6,889.3 L471.2,889.4 L473.9,889.3 L476.5,889.0 L479.2,888.7 L481.8,888.3 L484.5,887.9 L487.1,887.6 L489.8,887.4 L492.4,887.3 L495.1,887.1 L497.7,887.0 L500.4,886.9 L503.1,886.9 L505.7,887.0 L508.3,887.3 L510.9,887.8 L513.6,888.6 L516.3,889.7 L518.9,891.1 L521.5,892.5 L524.1,894.0 L526.8,895.4 L529.4,896.6 L532.1,897.5 L534.7,898.1 L537.3,898.7 L540.0,899.1 L542.6,899.3 L545.3,899.5 L548.0,899.6 L550.6,899.6 L553.3,899.5 L555.9,899.2 L558.6,898.7 L561.2,898.0 L563.9,897.2 L566.5,896.5 L569.2,895.8 L571.8,895.4 L574.4,895.3 L577.1,895.4 L579.7,895.8 L582.4,896.4 L585.0,897.1 L587.7,897.9 L590.3,898.8 L593.0,899.6 L595.6,900.4 L598.3,901.1 L600.9,901.9 L603.6,902.7 L606.2,903.6 L608.8,904.5 L611.5,905.3 L614.1,906.2 L616.8,907.0"/>
<path d="M443.3,865.0 L447.6,865.2 L452.0,865.3 L456.4,865.4 L460.8,865.4 L465.2,865.6 L469.5,866.0 L473.8,866.6 L478.1,867.5 L482.5,869.1 L486.9,871.3 L491.2,873.8 L495.5,876.5 L499.8,879.1 L504.1,881.5 L508.5,883.3 L512.9,884.5 L517.2,884.7 L521.5,884.4 L525.9,883.5 L530.2,882.5 L534.6,881.3 L539.0,880.3 L543.4,879.6 L547.7,879.5 L552.1,879.8 L556.5,880.4 L560.8,881.2 L565.2,882.2 L569.6,883.3 L573.9,884.6 L578.2,885.9 L582.5,887.2 L586.9,888.8 L591.3,890.8 L595.6,892.9 L599.9,895.1 L604.3,897.2 L608.6,899.0 L613.0,900.5 L617.4,901.3 L621.7,901.4 L626.0,900.7 L630.4,899.7 L634.8,898.4 L639.2,897.1 L643.6,896.1 L647.9,895.6 L652.2,895.8 L656.6,896.9 L661.0,898.8 L665.3,901.3 L669.6,904.0 L673.9,906.8 L678.2,909.4 L682.6,911.7 L687.0,913.4 L691.3,914.5 L695.6,915.2 L699.9,915.8 L704.3,916.1 L708.7,916.3 L713.1,916.5 L717.4,916.8 L721.8,917.2"/>
<path d="M416.8,884.3 L421.0,884.3 L425.3,884.4 L429.6,884.4 L433.8,884.4 L438.1,884.4 L442.3,884.5 L446.6,884.7 L450.8,885.0 L455.1,885.4 L459.4,886.0 L463.6,886.7 L467.9,887.5 L472.1,888.2 L476.4,888.8 L480.6,889.3 L484.9,889.5 L489.2,889.5 L493.4,889.3 L497.7,889.0 L501.9,888.6 L506.2,888.2 L510.5,887.6 L514.7,887.0 L519.0,886.3 L523.2,885.5 L527.5,884.5 L531.7,883.4 L536.0,882.2 L540.2,881.1 L544.5,880.1 L548.7,879.3 L553.0,878.9 L557.3,878.7 L561.5,878.7 L565.8,879.0 L570.1,879.3 L574.3,879.8 L578.6,880.4 L582.8,881.0 L587.1,881.6 L591.4,882.3 L595.6,883.3 L599.9,884.3 L604.1,885.4 L608.4,886.5 L612.6,887.4 L616.9,888.2 L621.1,888.8 L625.4,889.0 L629.6,889.1 L633.9,889.0 L638.2,888.8 L642.4,888.5 L646.7,888.2 L650.9,887.9 L655.2,887.6 L659.5,887.3 L663.7,887.0 L668.0,886.7 L672.2,886.3 L676.5,885.9 L680.8,885.5 L685.0,885.1 L689.3,884.8"/>
<path d="M440.8,893.9 L444.1,893.8 L447.4,893.8 L450.6,893.7 L453.9,893.7 L457.2,893.6 L460.5,893.6 L463.8,893.6 L467.0,893.7 L470.3,893.8 L473.6,893.9 L476.9,894.0 L480.2,894.1 L483.5,894.3 L486.7,894.6 L490.0,894.9 L493.3,895.4 L496.6,896.1 L499.9,897.0 L503.1,898.0 L506.4,899.1 L509.7,900.1 L512.9,901.1 L516.2,901.8 L519.5,902.1 L522.8,902.2 L526.0,902.0 L529.3,901.6 L532.6,901.1 L535.9,900.5 L539.2,899.9 L542.5,899.4 L545.7,899.0 L549.0,898.5 L552.3,898.0 L555.6,897.4 L558.9,896.9 L562.2,896.5 L565.5,896.2 L568.7,896.1 L572.0,896.3 L575.3,896.9 L578.6,897.9 L581.8,899.1 L585.1,900.4 L588.4,901.8 L591.6,903.2 L594.9,904.4 L598.2,905.5 L601.5,906.3 L604.7,907.1 L608.0,907.8 L611.3,908.5 L614.6,909.1 L617.9,909.7 L621.2,910.2 L624.5,910.7 L627.7,911.1 L631.0,911.5 L634.3,911.8 L637.6,912.1 L640.8,912.4 L644.1,912.6 L647.4,912.9 L650.7,913.2"/>
<path d="M448.3,864.1 L450.8,864.1 L453.3,864.0 L455.8,863.9 L458.4,863.8 L460.9,863.7 L463.4,863.7 L465.9,863.7 L468.4,863.9 L470.9,864.0 L473.4,864.3 L476.0,864.5 L478.5,864.9 L481.0,865.2 L483.5,865.7 L486.0,866.2 L488.5,866.8 L491.0,867.6 L493.5,868.5 L496.0,869.5 L498.5,870.5 L501.0,871.6 L503.5,872.7 L506.0,873.7 L508.5,874.7 L511.0,875.7 L513.5,876.8 L516.0,877.9 L518.5,878.9 L521.0,879.9 L523.6,880.8 L526.1,881.6 L528.6,882.3 L531.1,882.7 L533.6,883.1 L536.1,883.4 L538.6,883.6 L541.1,883.7 L543.7,883.7 L546.2,883.7 L548.7,883.6 L551.2,883.4 L553.7,883.1 L556.2,882.6 L558.7,882.1 L561.2,881.6 L563.7,881.0 L566.3,880.6 L568.8,880.2 L571.3,879.9 L573.8,879.5 L576.3,879.2 L578.8,878.9 L581.3,878.7 L583.8,878.5 L586.3,878.5 L588.8,878.5 L591.4,878.6 L593.9,878.9 L596.4,879.3 L598.9,879.7 L601.4,880.2 L603.9,880.6 L606.4,881.1 L608.9,881.5"/>
<path d="M398.1,880.2 L401.3,881.4 L404.5,882.6 L407.8,883.8 L411.0,885.0 L414.3,886.1 L417.5,887.3 L420.8,888.4 L424.0,889.4 L427.2,890.4 L430.5,891.6 L433.7,892.7 L437.0,893.8 L440.3,894.7 L443.5,895.5 L446.7,895.8 L450.0,895.8 L453.2,895.3 L456.5,894.2 L459.7,892.7 L462.9,891.0 L466.1,889.2 L469.4,887.6 L472.6,886.2 L475.9,885.2 L479.1,884.5 L482.4,883.8 L485.7,883.3 L489.0,883.0 L492.2,882.8 L495.5,882.9 L498.7,883.2 L501.8,883.9 L505.2,885.2 L508.5,887.2 L511.7,889.6 L514.8,892.2 L518.0,894.9 L521.2,897.4 L524.5,899.7 L527.8,901.4 L530.9,902.6 L534.1,903.8 L537.4,904.7 L540.7,905.5 L543.9,906.1 L547.2,906.5 L550.5,906.7 L553.7,906.7 L557.0,906.3 L560.2,905.5 L563.5,904.4 L566.7,903.1 L569.9,901.8 L573.2,900.6 L576.4,899.8 L579.7,899.4 L582.9,899.4 L586.1,899.7 L589.4,900.2 L592.6,900.9 L595.9,901.7 L599.1,902.6 L602.4,903.3 L605.6,904.0"/>
<path d="M492.6,892.8 L495.0,892.9 L497.5,893.1 L500.0,893.2 L502.5,893.4 L504.9,893.5 L507.4,893.6 L509.9,893.7 L512.3,893.7 L514.8,893.7 L517.3,893.6 L519.8,893.6 L522.3,893.5 L524.7,893.3 L527.2,893.1 L529.7,892.8 L532.1,892.5 L534.6,892.0 L537.1,891.5 L539.6,890.9 L542.0,890.2 L544.5,889.5 L547.0,888.8 L549.4,888.2 L551.9,887.6 L554.4,887.0 L556.8,886.4 L559.3,885.9 L561.8,885.3 L564.3,884.8 L566.7,884.3 L569.2,884.0 L571.7,883.8 L574.2,883.7 L576.6,883.7 L579.1,883.8 L581.6,884.0 L584.1,884.3 L586.5,884.6 L589.0,884.9 L591.5,885.3 L594.0,885.7 L596.4,886.3 L598.9,886.8 L601.4,887.5 L603.8,888.1 L606.3,888.7 L608.8,889.2 L611.3,889.6 L613.7,890.0 L616.2,890.3 L618.7,890.6 L621.1,890.8 L623.6,891.0 L626.1,891.1 L628.6,891.2 L631.0,891.2 L633.5,891.1 L636.0,890.9 L638.5,890.7 L640.9,890.4 L643.4,890.1 L645.9,889.8 L648.4,889.5 L650.8,889.2"/>
<path d="M464.7,899.5 L468.3,899.4 L472.0,899.2 L475.7,899.1 L479.4,899.0 L483.1,898.8 L486.8,898.7 L490.5,898.6 L494.2,898.6 L497.9,898.6 L501.6,898.7 L505.3,898.9 L509.0,899.0 L512.7,899.1 L516.4,899.2 L520.1,899.2 L523.8,899.0 L527.5,898.8 L531.2,898.4 L534.9,897.9 L538.6,897.4 L542.3,896.8 L546.0,896.2 L549.7,895.6 L553.3,895.0 L557.0,894.3 L560.7,893.5 L564.4,892.6 L568.1,891.8 L571.8,891.0 L575.5,890.2 L579.2,889.6 L582.9,889.2 L586.6,888.9 L590.3,888.7 L594.0,888.6 L597.7,888.7 L601.4,888.8 L605.1,889.0 L608.8,889.2 L612.5,889.5 L616.2,890.0 L619.9,890.5 L623.6,891.2 L627.2,892.0 L630.9,892.7 L634.6,893.4 L638.3,894.1 L642.0,894.5 L645.7,894.9 L649.4,895.2 L653.1,895.5 L656.8,895.6 L660.5,895.8 L664.2,895.8 L667.9,895.8 L671.6,895.8 L675.3,895.6 L679.0,895.3 L682.7,895.0 L686.4,894.6 L690.1,894.1 L693.8,893.7 L697.5,893.3 L701.1,892.9"/>
<path d="M496.6,888.7 L499.4,888.5 L502.2,888.3 L504.9,888.1 L507.7,887.9 L510.5,887.7 L513.3,887.6 L516.0,887.6 L518.8,887.7 L521.6,888.0 L524.4,888.5 L527.1,889.0 L529.9,889.7 L532.7,890.3 L535.5,890.9 L538.2,891.4 L541.0,891.8 L543.8,892.0 L546.6,892.3 L549.3,892.5 L552.1,892.6 L554.9,892.6 L557.7,892.6 L560.5,892.4 L563.2,892.1 L566.0,891.6 L568.8,890.8 L571.6,890.0 L574.3,889.0 L577.1,888.0 L579.9,887.0 L582.6,886.2 L585.4,885.6 L588.2,885.1 L591.0,884.6 L593.7,884.2 L596.5,883.8 L599.3,883.6 L602.1,883.4 L604.9,883.4 L607.6,883.5 L610.4,883.9 L613.2,884.5 L616.0,885.2 L618.7,886.1 L621.5,886.9 L624.3,887.8 L627.0,888.6 L629.8,889.2 L632.6,889.7 L635.4,890.2 L638.1,890.6 L640.9,891.0 L643.7,891.3 L646.5,891.5 L649.3,891.7 L652.0,891.8 L654.8,891.7 L657.6,891.5 L660.4,891.2 L663.1,890.9 L665.9,890.5 L668.7,890.1 L671.5,889.7 L674.2,889.4"/>
<path d="M429.1,883.7 L433.2,883.0 L437.2,882.1 L441.2,881.2 L445.3,880.2 L449.3,879.5 L453.3,879.0 L457.3,878.8 L461.3,879.1 L465.4,880.2 L469.4,882.0 L473.4,884.3 L477.4,886.8 L481.4,889.3 L485.4,891.4 L489.4,893.1 L493.5,893.8 L497.4,893.7 L501.4,893.0 L505.4,891.8 L509.5,890.3 L513.5,888.7 L517.5,887.0 L521.6,885.4 L525.6,884.2 L529.6,883.0 L533.7,881.6 L537.8,880.2 L541.8,878.9 L545.9,877.7 L549.9,877.0 L553.9,876.7 L557.8,877.1 L561.9,878.7 L566.0,881.4 L570.0,884.8 L573.9,888.6 L577.9,892.4 L581.8,895.7 L585.9,898.2 L590.0,899.4 L593.9,899.2 L597.8,898.0 L601.8,896.2 L605.8,893.9 L609.9,891.4 L613.9,889.1 L618.0,887.2 L622.1,886.1 L626.1,885.5 L630.1,885.3 L634.1,885.3 L638.1,885.5 L642.2,885.9 L646.2,886.4 L650.3,886.9 L654.3,887.4 L658.3,888.0 L662.3,888.8 L666.4,889.6 L670.4,890.6 L674.4,891.5 L678.4,892.5 L682.4,893.5 L686.4,894.4"/></g>
<path d="M462.0,541.0 L461.7,540.2 L461.4,539.3 L461.0,538.4 L460.5,537.5 L460.0,536.6 L459.4,535.7 L458.8,534.8 L458.2,533.9 L457.5,533.0 L456.8,532.1 L456.1,531.2 L455.3,530.4 L454.5,529.6 L453.7,528.9 L452.7,528.1 L451.6,527.3 L450.5,526.6 L449.3,525.9 L448.1,525.2 L446.8,524.6 L445.5,524.0 L444.2,523.4 L442.8,522.8 L441.5,522.3 L440.1,521.7 L438.8,521.2 L437.5,520.6 L436.2,520.1 L435.0,519.6 L433.7,519.1 L432.5,518.6 L431.2,518.1 L430.0,517.6 L428.8,517.1 L427.5,516.7 L426.3,516.2 L425.0,515.8 L423.7,515.4 L422.5,515.0 L421.2,514.7 L420.0,514.3 L418.7,514.0 L417.5,513.7 L416.2,513.4 L415.0,513.1 L413.8,512.9 L412.6,512.6 L411.3,512.4 L410.1,512.2 L408.9,512.0 L407.6,511.8 L406.4,511.7 L405.1,511.6 L403.8,511.5 L402.5,511.4 L401.2,511.4 L399.7,511.4 L398.2,511.4 L396.6,511.5 L395.0,511.6 L393.3,511.7 L391.7,511.8 L390.1,512.0 L388.4,512.2 L386.8,512.4 L385.3,512.7 L383.7,513.0 L382.2,513.3 L380.8,513.6 L379.4,514.0 L378.3,514.3 L377.3,514.6 L376.2,515.0 L375.2,515.3 L374.2,515.7 L373.2,516.1 L372.3,516.5 L371.3,516.9 L370.4,517.4 L369.5,517.8 L368.7,518.4 L367.8,518.9 L367.0,519.5 L366.2,520.1 L365.4,520.8 L364.7,521.5 L363.9,522.2 L363.2,523.0 L362.5,523.8 L361.8,524.7 L361.2,525.6 L360.6,526.5 L360.0,527.4 L359.4,528.3 L358.9,529.2 L358.4,530.2 L357.9,531.1 L357.5,532.0 L357.1,532.9 L356.8,533.8 L356.5,534.7 L356.2,535.6 L355.9,536.5 L355.6,537.5 L355.4,538.4 L355.2,539.4 L355.1,540.3 L355.0,541.3 L354.9,542.2 L354.9,543.2 L354.9,544.1 L354.9,545.0 L355.0,545.9 L355.1,546.8 L355.2,547.7 L355.4,548.6 L355.6,549.5 L355.9,550.4 L356.1,551.2 L356.5,552.1 L356.8,553.0 L357.2,553.8 L357.6,554.6 L358.0,555.5 L358.5,556.2 L359.0,557.0 L359.6,557.8 L360.2,558.6 L360.9,559.3 L361.6,560.0 L362.4,560.7 L363.2,561.4 L364.0,562.1 L364.9,562.7 L365.8,563.4 L366.7,564.0 L367.6,564.6 L368.6,565.2 L369.6,565.9 L370.6,566.5 L371.9,567.3 L373.3,568.1 L374.7,569.0 L376.2,569.8 L377.8,570.6 L379.4,571.5 L381.0,572.2 L382.6,573.0 L384.3,573.7 L385.9,574.4 L387.6,575.0 L389.2,575.6 L390.9,576.1 L392.5,576.5 L394.0,576.8 L395.6,577.1 L397.1,577.3 L398.7,577.5 L400.3,577.7 L401.9,577.8 L403.4,577.8 L405.0,577.8 L406.6,577.8 L408.2,577.7 L409.7,577.6 L411.3,577.4 L412.9,577.2 L414.4,577.0 L416.0,576.7 L417.6,576.4 L419.2,576.0 L420.8,575.5 L422.4,575.0 L424.0,574.5 L425.6,573.9 L427.2,573.3 L428.7,572.7 L430.3,572.0 L431.8,571.3 L433.3,570.6 L434.8,569.9 L436.2,569.1 L437.6,568.3 L438.9,567.5 L440.3,566.6 L441.7,565.6 L443.0,564.7 L444.3,563.7 L445.6,562.7 L446.9,561.6 L448.1,560.6 L449.3,559.6 L450.5,558.7 L451.6,557.7 L452.7,556.8 L453.7,556.0 L454.4,555.4 L455.1,554.9 L455.9,554.4 L456.6,553.9 L457.3,553.5 L458.0,553.0 L458.6,552.5 L459.2,552.1 L459.8,551.6 L460.4,551.1 L460.9,550.6 L461.3,550.1 L461.7,549.6 L462.0,549.0 L462.2,548.5 L462.4,548.0 L462.5,547.4 L462.6,546.9 L462.7,546.3 L462.7,545.7 L462.7,545.2 L462.7,544.6 L462.7,544.0 L462.6,543.4 L462.5,542.8 L462.3,542.2 L462.2,541.6 L462.0,541.0Z" fill="none" stroke="#f7f7f7" stroke-width="11.4" stroke-linejoin="round"/>
<path d="M464.43,539.01 L462.89,536.26 L455.97,534.93 L457.50,537.68Z M459.47,530.75 L457.24,528.54 L450.22,529.19 L452.45,531.40Z M452.22,524.28 L449.41,522.88 L442.94,525.69 L445.76,527.09Z M444.05,520.39 L441.14,519.21 L434.91,522.51 L437.82,523.69Z M435.86,517.00 L432.93,515.84 L426.74,519.20 L429.66,520.36Z M427.41,513.72 L424.41,512.80 L418.49,516.63 L421.50,517.55Z M418.70,511.16 L415.62,510.51 L410.07,514.85 L413.14,515.50Z M409.72,509.31 L406.59,509.02 L401.58,513.98 L404.71,514.27Z M400.55,508.63 L397.41,508.75 L393.07,514.30 L396.22,514.19Z M391.42,509.05 L388.31,509.49 L384.59,515.49 L387.71,515.04Z M382.28,510.36 L379.26,511.23 L376.41,517.68 L379.43,516.80Z M373.28,512.91 L370.46,514.31 L368.82,521.17 L371.63,519.76Z M364.70,517.59 L362.50,519.83 L363.17,526.85 L365.38,524.60Z M358.22,524.72 L356.74,527.50 L359.37,534.04 L360.85,531.26Z M353.82,533.27 L353.13,536.34 L357.41,541.94 L358.10,538.87Z M351.89,542.90 L352.27,546.02 L358.19,549.86 L357.80,546.74Z M353.45,552.70 L354.95,555.46 L361.86,556.86 L360.36,554.10Z M358.62,561.22 L361.08,563.18 L367.99,561.78 L365.53,559.82Z M365.91,566.75 L368.57,568.42 L375.28,566.24 L372.61,564.58Z M373.62,571.53 L376.41,572.97 L382.92,570.25 L380.12,568.81Z M381.77,575.74 L384.71,576.84 L390.85,573.38 L387.91,572.27Z M390.55,578.94 L393.64,579.50 L399.06,574.99 L395.96,574.43Z M399.75,580.49 L402.89,580.50 L407.45,575.12 L404.30,575.11Z M408.95,580.45 L412.07,580.05 L415.89,574.13 L412.77,574.52Z M418.18,579.15 L421.18,578.23 L423.94,571.75 L420.93,572.66Z M426.92,576.42 L429.80,575.17 L431.81,568.41 L428.92,569.66Z M435.27,572.73 L438.01,571.18 L439.29,564.25 L436.55,565.80Z M443.20,567.96 L445.68,566.02 L445.91,558.98 L443.43,560.92Z M450.18,562.40 L452.59,560.39 L452.63,553.34 L450.21,555.35Z M456.92,557.03 L459.49,555.23 L460.10,548.20 L457.52,550.01Z M465.42,549.20 L465.43,546.05 L460.06,541.49 L460.04,544.64Z" fill="#3c3c3e" stroke="#3c3c3e" stroke-width="4.0" stroke-linejoin="round"/>
<path d="M459.4,540.0 L459.7,539.1 L460.1,538.2 L460.6,537.2 L461.2,536.3 L461.8,535.3 L462.4,534.3 L463.1,533.4 L463.9,532.4 L464.6,531.5 L465.4,530.6 L466.2,529.7 L467.1,528.8 L467.9,528.0 L468.7,527.2 L469.6,526.4 L470.5,525.6 L471.4,524.8 L472.4,524.1 L473.4,523.4 L474.4,522.7 L475.4,522.0 L476.4,521.3 L477.5,520.7 L478.6,520.0 L479.6,519.4 L480.7,518.9 L481.8,518.3 L482.8,517.8 L483.8,517.3 L484.7,516.9 L485.7,516.5 L486.6,516.1 L487.6,515.7 L488.6,515.4 L489.5,515.1 L490.5,514.8 L491.5,514.5 L492.6,514.2 L493.6,513.9 L494.7,513.6 L495.8,513.4 L496.9,513.1 L498.4,512.8 L499.9,512.5 L501.5,512.2 L503.1,511.9 L504.8,511.6 L506.5,511.3 L508.2,511.1 L509.9,510.9 L511.7,510.7 L513.4,510.5 L515.2,510.4 L516.9,510.3 L518.6,510.3 L520.3,510.3 L522.0,510.4 L523.7,510.4 L525.4,510.6 L527.1,510.7 L528.8,510.9 L530.5,511.2 L532.2,511.4 L533.9,511.7 L535.6,512.1 L537.3,512.4 L538.9,512.8 L540.5,513.2 L542.1,513.6 L543.7,514.1 L545.1,514.5 L546.6,515.0 L548.0,515.5 L549.4,516.1 L550.8,516.6 L552.2,517.2 L553.5,517.8 L554.9,518.4 L556.2,519.1 L557.5,519.7 L558.8,520.4 L560.0,521.1 L561.3,521.8 L562.5,522.5 L563.6,523.2 L564.7,523.8 L565.8,524.5 L566.9,525.2 L568.0,525.9 L569.1,526.6 L570.1,527.3 L571.1,528.1 L572.1,528.8 L573.1,529.6 L574.0,530.4 L574.9,531.2 L575.7,532.0 L576.5,532.8 L577.1,533.5 L577.8,534.3 L578.4,535.1 L579.0,535.9 L579.5,536.7 L580.1,537.5 L580.6,538.3 L581.1,539.1 L581.5,540.0 L581.9,540.8 L582.3,541.6 L582.6,542.4 L582.9,543.2 L583.1,544.0 L583.3,544.6 L583.4,545.2 L583.5,545.9 L583.6,546.5 L583.6,547.1 L583.6,547.7 L583.6,548.3 L583.6,548.9 L583.6,549.5 L583.5,550.1 L583.4,550.7 L583.3,551.3 L583.2,551.9 L583.1,552.5 L583.0,553.1 L582.8,553.7 L582.6,554.3 L582.4,555.0 L582.1,555.6 L581.9,556.2 L581.6,556.8 L581.3,557.4 L581.0,558.0 L580.7,558.6 L580.3,559.2 L580.0,559.8 L579.7,560.4 L579.3,561.0 L578.9,561.7 L578.4,562.5 L578.0,563.3 L577.5,564.0 L577.1,564.8 L576.6,565.6 L576.1,566.4 L575.5,567.1 L575.0,567.9 L574.4,568.6 L573.8,569.3 L573.2,570.0 L572.5,570.6 L571.8,571.2 L571.0,571.8 L570.1,572.3 L569.2,572.9 L568.3,573.4 L567.4,573.8 L566.4,574.2 L565.3,574.6 L564.3,575.0 L563.2,575.4 L562.2,575.7 L561.1,576.0 L560.0,576.3 L558.9,576.6 L557.8,576.9 L556.6,577.2 L555.3,577.5 L554.0,577.7 L552.7,577.9 L551.4,578.1 L550.1,578.3 L548.7,578.4 L547.4,578.5 L546.0,578.6 L544.6,578.7 L543.2,578.7 L541.8,578.7 L540.4,578.7 L539.0,578.7 L537.4,578.6 L535.8,578.5 L534.1,578.4 L532.5,578.2 L530.8,578.0 L529.1,577.7 L527.4,577.5 L525.7,577.2 L524.0,576.8 L522.3,576.5 L520.6,576.1 L518.9,575.8 L517.3,575.4 L515.6,575.0 L513.9,574.6 L512.2,574.2 L510.5,573.7 L508.8,573.2 L507.1,572.7 L505.4,572.2 L503.7,571.7 L502.0,571.1 L500.3,570.5 L498.6,570.0 L497.0,569.4 L495.4,568.7 L493.8,568.1 L492.2,567.5 L490.8,566.9 L489.3,566.3 L487.9,565.6 L486.5,565.0 L485.2,564.3 L483.8,563.6 L482.4,562.9 L481.1,562.2 L479.8,561.5 L478.5,560.8 L477.2,560.1 L475.9,559.5 L474.6,558.8 L473.4,558.1 L472.3,557.5 L471.1,557.0 L470.0,556.4 L468.8,555.9 L467.6,555.4 L466.4,554.9 L465.3,554.4 L464.2,553.8 L463.1,553.3 L462.2,552.7 L461.3,552.1 L460.6,551.4 L459.9,550.7 L459.4,550.0 L459.1,549.4 L458.8,548.7 L458.6,548.1 L458.5,547.4 L458.4,546.7 L458.4,545.9 L458.4,545.2 L458.4,544.5 L458.5,543.7 L458.6,543.0 L458.8,542.2 L459.0,541.5 L459.2,540.7 L459.4,540.0Z" fill="none" stroke="#f7f7f7" stroke-width="11.4" stroke-linejoin="round"/>
<path d="M461.55,540.71 L463.20,538.11 L461.05,531.40 L459.41,534.00Z M466.09,533.80 L468.20,531.56 L467.39,524.56 L465.27,526.80Z M471.86,527.82 L474.34,526.00 L474.79,518.97 L472.31,520.79Z M478.67,522.96 L481.40,521.54 L482.94,514.66 L480.21,516.08Z M486.10,519.08 L489.02,518.09 L491.59,511.53 L488.67,512.51Z M494.17,516.46 L497.18,515.80 L500.46,509.56 L497.45,510.22Z M502.59,514.65 L505.64,514.18 L509.29,508.15 L506.25,508.62Z M511.05,513.39 L514.12,513.18 L518.28,507.49 L515.21,507.69Z M519.49,512.92 L522.57,513.09 L527.39,507.95 L524.31,507.78Z M527.98,513.52 L531.02,514.00 L536.34,509.36 L533.29,508.89Z M536.37,514.89 L539.34,515.69 L545.12,511.66 L542.15,510.85Z M544.58,517.13 L547.46,518.22 L553.61,514.79 L550.74,513.70Z M552.49,520.25 L555.24,521.64 L561.71,518.86 L558.96,517.47Z M560.11,524.16 L562.74,525.77 L569.42,523.52 L566.79,521.91Z M567.38,528.59 L569.83,530.45 L576.71,528.90 L574.25,527.03Z M573.78,533.58 L575.68,536.00 L582.73,536.24 L580.83,533.82Z M578.80,539.80 L579.82,542.71 L586.42,545.19 L585.40,542.28Z M581.27,546.96 L580.80,550.01 L585.44,555.31 L585.91,552.27Z M579.78,554.66 L578.27,557.35 L580.76,563.94 L582.27,561.26Z M575.71,562.16 L573.95,564.70 L575.82,571.50 L577.57,568.96Z M571.34,568.52 L568.68,570.07 L567.49,577.02 L570.15,575.47Z M564.16,572.32 L561.20,573.19 L558.37,579.65 L561.33,578.78Z M556.08,574.69 L553.04,575.13 L549.32,581.13 L552.37,580.69Z M547.69,575.88 L544.61,575.98 L540.24,581.51 L543.32,581.42Z M539.23,576.12 L536.16,575.84 L531.16,580.81 L534.23,581.09Z M530.71,575.29 L527.68,574.76 L522.28,579.29 L525.31,579.83Z M522.20,573.74 L519.20,573.06 L513.58,577.32 L516.59,578.01Z M513.78,571.81 L510.81,570.98 L504.99,574.95 L507.96,575.78Z M505.47,569.44 L502.55,568.45 L496.53,572.11 L499.45,573.10Z M497.30,566.64 L494.44,565.49 L488.23,568.82 L491.09,569.96Z M489.38,563.40 L486.62,562.02 L480.16,564.83 L482.91,566.21Z M481.62,559.48 L478.91,558.01 L472.36,560.60 L475.07,562.07Z M473.72,555.15 L470.90,553.91 L464.58,557.04 L467.40,558.27Z M466.02,552.08 L463.50,550.31 L456.69,552.11 L459.21,553.89Z M460.70,548.37 L461.05,545.31 L456.21,540.19 L455.85,543.25Z" fill="#3c3c3e" stroke="#3c3c3e" stroke-width="4.0" stroke-linejoin="round"/>
<path d="M248.0,549.6 L251.7,549.6 L255.5,549.5 L259.3,549.5 L263.1,549.4 L266.9,549.4 L270.6,549.3 L274.4,549.3 L278.2,549.2 L281.9,549.2 L285.6,549.2 L289.3,549.1 L292.9,549.1 L296.5,549.0 L300.0,549.0 L303.0,549.0 L305.9,548.9 L308.8,548.9 L311.6,548.9 L314.3,548.8 L317.1,548.8 L319.8,548.8 L322.6,548.8 L325.3,548.7 L328.1,548.7 L331.0,548.7 L333.9,548.7 L336.9,548.6 L340.0,548.6 L343.9,548.6 L348.0,548.5 L352.1,548.5 L356.4,548.5 L360.7,548.5 L365.0,548.4 L369.5,548.4 L373.9,548.4 L378.3,548.3 L382.7,548.3 L387.1,548.3 L391.5,548.3 L395.8,548.2 L400.0,548.2 L403.9,548.2 L407.8,548.1 L411.6,548.1 L415.4,548.0 L419.2,548.0 L423.0,548.0 L426.8,547.9 L430.6,547.9 L434.4,547.8 L438.2,547.8 L442.0,547.8 L445.9,547.7 L449.8,547.7 L453.7,547.7 L458.0,547.7 L462.3,547.7 L466.7,547.7 L471.2,547.7 L475.6,547.7 L480.1,547.7 L484.6,547.7 L489.0,547.7 L493.5,547.7 L498.0,547.7 L502.5,547.7 L506.9,547.8 L511.3,547.8 L515.6,547.8 L519.7,547.8 L523.9,547.9 L528.2,547.9 L532.4,547.9 L536.7,548.0 L540.9,548.0 L545.1,548.1 L549.2,548.1 L553.3,548.2 L557.2,548.2 L561.1,548.2 L564.8,548.2 L568.4,548.2 L571.8,548.2 L574.1,548.2 L576.3,548.1 L578.3,548.1 L580.3,548.1 L582.3,548.0 L584.1,547.9 L586.0,547.9 L587.9,547.8 L589.7,547.8 L591.6,547.7 L593.6,547.6 L595.6,547.6 L597.8,547.5 L600.0,547.5 L603.1,547.4 L606.4,547.4 L609.8,547.4 L613.3,547.3 L616.9,547.3 L620.6,547.2 L624.3,547.2 L628.0,547.2 L631.8,547.1 L635.5,547.1 L639.2,547.1 L642.9,547.1 L646.5,547.0 L650.0,547.0 L653.3,547.0 L656.6,547.0 L659.8,546.9 L663.0,546.9 L666.2,546.9 L669.5,546.9 L672.6,546.9 L675.8,546.9 L679.0,546.9 L682.2,546.8 L685.4,546.8 L688.6,546.8 L691.8,546.8 L695.0,546.8" fill="none" stroke="#f7f7f7" stroke-width="11.4" stroke-linejoin="round"/>
<path d="M248.62,552.29 L251.68,552.26 L256.15,546.81 L253.08,546.84Z M257.38,552.19 L260.45,552.15 L264.91,546.70 L261.85,546.74Z M266.15,552.09 L269.21,552.05 L273.68,546.60 L270.61,546.63Z M274.91,551.98 L277.97,551.95 L282.44,546.50 L279.38,546.53Z M283.67,551.88 L286.74,551.85 L291.21,546.40 L288.14,546.43Z M292.44,551.78 L295.50,551.75 L299.97,546.30 L296.91,546.33Z M301.20,551.69 L304.27,551.65 L308.74,546.21 L305.67,546.24Z M309.97,551.59 L313.03,551.56 L317.50,546.11 L314.44,546.14Z M318.73,551.50 L321.79,551.47 L326.27,546.02 L323.20,546.05Z M327.49,551.41 L330.56,551.38 L335.04,545.94 L331.97,545.97Z M336.25,551.33 L339.32,551.31 L343.81,545.87 L340.74,545.89Z M345.01,551.26 L348.08,551.24 L352.57,545.81 L349.51,545.83Z M353.78,551.20 L356.84,551.18 L361.34,545.75 L358.27,545.77Z M362.54,551.14 L365.61,551.13 L370.11,545.70 L367.04,545.72Z M371.31,551.09 L374.37,551.07 L378.87,545.65 L375.81,545.66Z M380.07,551.04 L383.14,551.02 L387.63,545.59 L384.57,545.61Z M388.84,550.98 L391.91,550.96 L396.40,545.53 L393.33,545.55Z M397.61,550.92 L400.67,550.89 L405.16,545.46 L402.09,545.48Z M406.38,550.84 L409.44,550.81 L413.92,545.37 L410.85,545.40Z M415.15,550.75 L418.21,550.72 L422.68,545.27 L419.62,545.30Z M423.91,550.65 L426.97,550.62 L431.45,545.17 L428.38,545.20Z M432.67,550.56 L435.74,550.53 L440.21,545.08 L437.15,545.11Z M441.43,550.48 L444.49,550.45 L448.99,545.02 L445.92,545.04Z M450.18,550.41 L453.25,550.40 L457.76,544.99 L454.70,545.00Z M458.94,550.38 L462.01,550.38 L466.53,544.97 L463.47,544.98Z M467.70,550.37 L470.77,550.37 L475.30,544.97 L472.24,544.97Z M476.46,550.37 L479.53,550.38 L484.07,544.99 L481.01,544.98Z M485.23,550.39 L488.29,550.40 L492.84,545.01 L489.77,545.00Z M493.99,550.41 L497.06,550.43 L501.61,545.04 L498.54,545.03Z M502.75,550.45 L505.82,550.46 L510.37,545.08 L507.31,545.06Z M511.52,550.48 L514.58,550.50 L519.14,545.12 L516.07,545.10Z M520.27,550.52 L523.34,550.55 L527.92,545.19 L524.85,545.16Z M529.03,550.60 L532.09,550.64 L536.69,545.29 L533.62,545.25Z M537.79,550.70 L540.86,550.74 L545.45,545.39 L542.39,545.35Z M546.56,550.80 L549.63,550.83 L554.21,545.47 L551.15,545.44Z M555.34,550.89 L558.40,550.90 L562.97,545.53 L559.90,545.51Z M564.12,550.93 L567.19,550.92 L571.71,545.52 L568.65,545.52Z M572.94,550.91 L576.00,550.85 L580.43,545.36 L577.36,545.42Z M581.73,550.72 L584.80,550.62 L589.16,545.08 L586.09,545.18Z M590.48,550.43 L593.54,550.35 L597.93,544.83 L594.87,544.91Z M599.22,550.21 L602.28,550.16 L606.72,544.69 L603.66,544.74Z M607.97,550.08 L611.03,550.04 L615.50,544.59 L612.43,544.62Z M616.73,549.97 L619.79,549.94 L624.27,544.50 L621.20,544.53Z M625.49,549.89 L628.55,549.86 L633.04,544.43 L629.97,544.45Z M634.25,549.82 L637.31,549.79 L641.80,544.36 L638.74,544.38Z M643.01,549.75 L646.08,549.73 L650.57,544.30 L647.51,544.32Z M651.78,549.69 L654.84,549.67 L659.34,544.24 L656.27,544.26Z M660.54,549.63 L663.60,549.62 L668.11,544.20 L665.04,544.21Z M669.30,549.60 L672.36,549.58 L676.88,544.17 L673.81,544.18Z M678.06,549.56 L681.13,549.55 L685.64,544.14 L682.58,544.15Z M686.83,549.53 L689.90,549.52 L694.40,544.10 L691.34,544.12Z" fill="#3c3c3e" stroke="#3c3c3e" stroke-width="4.0" stroke-linejoin="round"/></svg>
<div class="t" style="left:180.8px;top:124.4px">Seacraft technology</div><div class="t" style="left:661.3px;top:189.3px">Plant acquisition</div><div class="t" style="left:1207.75px;top:372.2px">Cutting of sections</div><div class="t" style="left:78.5px;top:376.9px">Actual use</div><div class="t" style="left:62.8px;top:633.7px">Rope making</div><div class="t" style="left:102.2px;top:874.8px">Drying of fibres</div><div class="t c" style="left:1109.2px;top:614px">Removing strips</div><div class="t c" style="left:1109.2px;top:654px">from the sections</div><div class="t c" style="left:1066.2px;top:853px">Scraping for initial</div><div class="t c" style="left:1066.2px;top:893px">fibre extraction</div><div class="t c" style="left:492.79999999999995px;top:1051.2px">Processing of finer</div><div class="t c" style="left:492.79999999999995px;top:1091.2px">fibres</div>
</body></html>
